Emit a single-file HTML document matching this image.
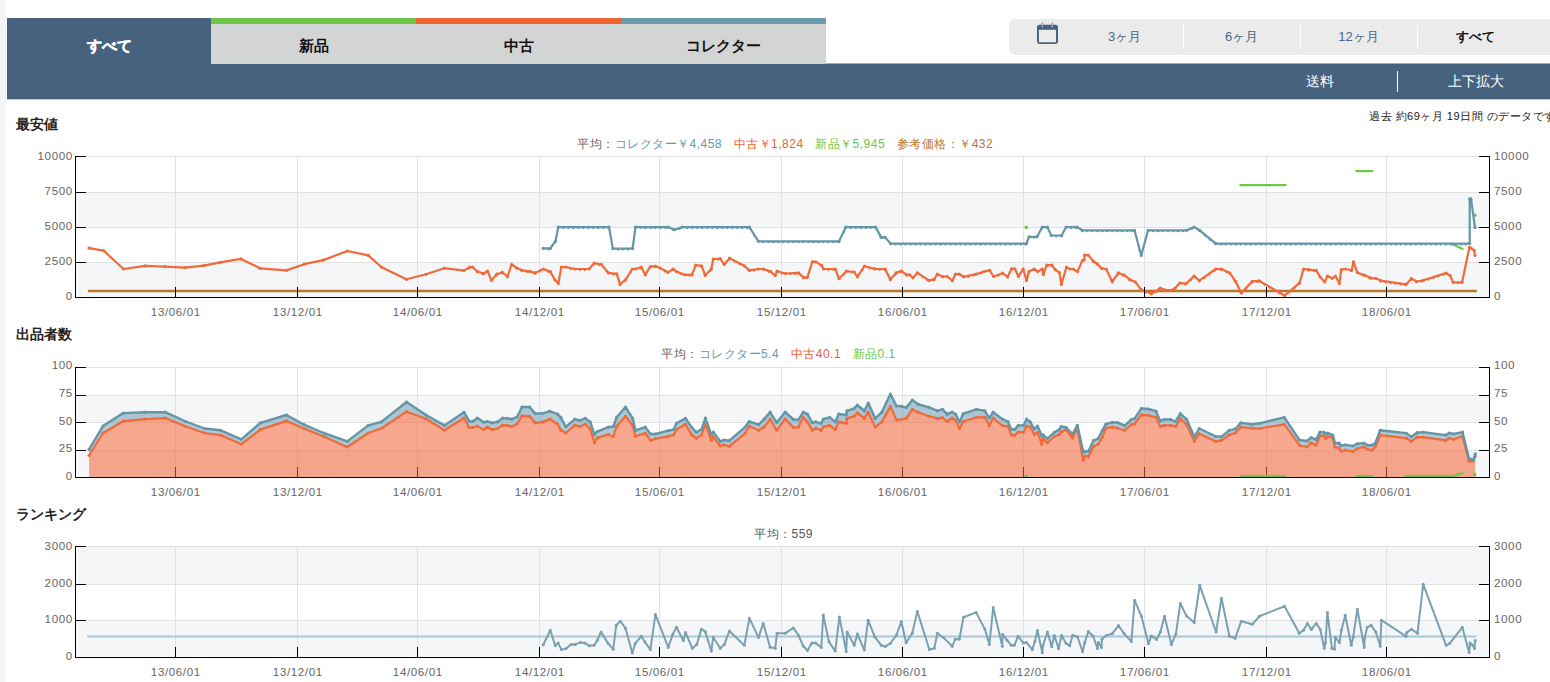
<!DOCTYPE html>
<html><head><meta charset="utf-8">
<style>
*{margin:0;padding:0;box-sizing:border-box}
html,body{width:1550px;height:682px;overflow:hidden;background:#fff;font-family:"Liberation Sans",sans-serif;color:#222}
.a{position:absolute}
#strip{left:0;top:0;width:6px;height:682px;background:#f4f5f7}
.tab{top:18px;height:46px;font-weight:bold;font-size:15px;text-align:center;line-height:46px}
.tab.on{background:#46627f;color:#fff;padding-top:6px;line-height:44px;-webkit-text-stroke:0.4px #fff}
.tab.off{background:#d3d4d4;color:#111;border-top:6px solid;line-height:44px}
#bar{left:7px;top:64px;width:1543px;height:35px;background:#46627f;box-shadow:0 1px 0 #c4c6c8}
#barline{left:826px;top:63px;width:724px;height:1px;background:#a9acaf}
.bt{color:#fff;font-size:14px;top:64px;height:35px;line-height:35px;text-align:center}
#sep{left:1397px;top:71px;width:1.2px;height:21px;background:#fff}
#dbox{left:1009px;top:19px;width:560px;height:36px;background:#ebebeb;border-radius:6px}
.dopt{top:19px;height:36px;line-height:36px;font-size:13px;color:#4a6684;text-align:center;width:117px}
.dsep{top:25px;width:1px;height:24px;background:#fff}
.title{font-size:14px;font-weight:bold;color:#222;left:16px}
.leg{font-size:12px;white-space:nowrap;color:#666;letter-spacing:0.5px}
svg text.al{font-family:"Liberation Sans",sans-serif;font-size:11.6px;letter-spacing:0.6px;fill:#666}
</style></head><body>
<div id="strip" class="a"></div>
<div class="a tab on" style="left:7px;width:204px">すべて</div>
<div class="a tab off" style="left:211px;width:205px;border-color:#6cc644">新品</div>
<div class="a tab off" style="left:416px;width:205px;border-color:#f0642f">中古</div>
<div class="a tab off" style="left:621px;width:205px;border-color:#6a9cae">コレクター</div>
<div id="bar" class="a"></div><div id="barline" class="a"></div>
<div class="a bt" style="left:1262px;width:116px">送料</div>
<div id="sep" class="a"></div>
<div class="a bt" style="left:1417px;width:117px">上下拡大</div>
<div id="dbox" class="a"></div>
<svg class="a" style="left:1036px;top:22px" width="24" height="24" viewBox="0 0 24 24">
<rect x="1" y="2.7" width="21" height="19.2" rx="2.4" fill="#46627f"/>
<rect x="2.9" y="7.8" width="17.1" height="12.5" rx="0.5" fill="#ebebeb"/>
<rect x="5.8" y="0.8" width="1.2" height="4.8" rx="0.6" fill="#ebebeb" stroke="#46627f" stroke-width="0.5"/>
<rect x="15.8" y="0.8" width="1.2" height="4.8" rx="0.6" fill="#ebebeb" stroke="#46627f" stroke-width="0.5"/>
</svg>
<div class="a dopt" style="left:1066px">3ヶ月</div>
<div class="a dsep" style="left:1183px"></div>
<div class="a dopt" style="left:1183px">6ヶ月</div>
<div class="a dsep" style="left:1300px"></div>
<div class="a dopt" style="left:1300px">12ヶ月</div>
<div class="a dsep" style="left:1417px"></div>
<div class="a dopt" style="left:1417px;color:#111;font-weight:bold;font-size:13px">すべて</div>
<div class="a leg" style="left:1369px;top:109px;font-size:11px;color:#222">過去 約69ヶ月 19日間 のデータです</div>

<div class="a title" style="top:116px">最安値</div>
<div class="a leg" style="left:577px;top:136px"><span style="color:#666">平均：</span><span style="color:#6a98ab">コレクター￥4,458</span>&nbsp;&nbsp; <span style="color:#ee6035">中古￥1,824</span>&nbsp;&nbsp; <span style="color:#6cc644">新品￥5,945</span>&nbsp;&nbsp; <span style="color:#b8772a">参考価格：￥432</span></div>

<div class="a title" style="top:326px">出品者数</div>
<div class="a leg" style="left:661px;top:346px"><span style="color:#666">平均：</span><span style="color:#6a98ab">コレクター5.4</span>&nbsp;&nbsp; <span style="color:#ee6035">中古40.1</span>&nbsp;&nbsp; <span style="color:#6cc644">新品0.1</span></div>

<div class="a title" style="top:505.5px;left:15.5px">ランキング</div>
<div class="a leg" style="left:754px;top:526px;color:#555">平均：559</div>

<svg class="a" style="left:0;top:0" width="1550" height="682" viewBox="0 0 1550 682">
<rect x="76" y="193" width="1413" height="34" fill="#f5f6f8"/>
<rect x="76" y="263" width="1413" height="34" fill="#f5f6f8"/>
<line x1="75" y1="156.5" x2="1489" y2="156.5" stroke="#e1e1e1" stroke-width="1"/>
<line x1="75" y1="192.5" x2="1489" y2="192.5" stroke="#e1e1e1" stroke-width="1"/>
<line x1="75" y1="227.5" x2="1489" y2="227.5" stroke="#e1e1e1" stroke-width="1"/>
<line x1="75" y1="262.5" x2="1489" y2="262.5" stroke="#e1e1e1" stroke-width="1"/>
<line x1="175.5" y1="156" x2="175.5" y2="297" stroke="#e1e1e1" stroke-width="1"/>
<line x1="297.5" y1="156" x2="297.5" y2="297" stroke="#e1e1e1" stroke-width="1"/>
<line x1="417.5" y1="156" x2="417.5" y2="297" stroke="#e1e1e1" stroke-width="1"/>
<line x1="539.5" y1="156" x2="539.5" y2="297" stroke="#e1e1e1" stroke-width="1"/>
<line x1="659.5" y1="156" x2="659.5" y2="297" stroke="#e1e1e1" stroke-width="1"/>
<line x1="781.5" y1="156" x2="781.5" y2="297" stroke="#e1e1e1" stroke-width="1"/>
<line x1="902.5" y1="156" x2="902.5" y2="297" stroke="#e1e1e1" stroke-width="1"/>
<line x1="1023.5" y1="156" x2="1023.5" y2="297" stroke="#e1e1e1" stroke-width="1"/>
<line x1="1144.5" y1="156" x2="1144.5" y2="297" stroke="#e1e1e1" stroke-width="1"/>
<line x1="1266.5" y1="156" x2="1266.5" y2="297" stroke="#e1e1e1" stroke-width="1"/>
<line x1="1386.5" y1="156" x2="1386.5" y2="297" stroke="#e1e1e1" stroke-width="1"/>
<polyline points="89,291 1475.8,291" fill="none" stroke="#b8772a" stroke-width="2.6" stroke-linecap="round"/>
<polyline points="89.0,248.1 103.6,250.6 123.5,269.0 145.2,265.9 164.8,266.6 184.8,267.7 203.9,265.7 220.0,262.3 240.9,258.9 260.0,268.3 286.4,270.4 304.2,264.2 323.2,260.1 347.4,251.0 368.3,255.4 381.6,267.2 406.4,279.3 426.1,274.3 444.2,268.2 463.9,270.6 469.7,267.1 472.6,267.0 477.4,271.6 483.6,273.5 487.5,271.0 491.4,280.4 496.8,274.2 502.3,272.3 507.5,276.5 511.6,264.5 516.8,268.0 521.9,270.3 529.7,271.4 535.1,272.9 543.2,269.0 550.3,271.6 554.8,279.7 558.3,283.5 561.3,267.1 565.8,267.0 574.8,269.0 589.0,269.0 594.2,263.2 601.3,264.5 608.4,272.9 616.8,273.9 620.0,284.5 625.8,279.4 632.3,269.0 635.5,269.0 641.3,267.1 645.2,274.8 650.3,266.5 655.5,266.2 660.0,268.0 668.1,272.3 673.2,269.0 676.5,271.6 684.8,274.8 691.9,274.8 695.8,265.2 701.6,265.8 705.2,275.5 711.3,269.0 713.2,259.1 720.3,258.7 724.2,264.5 729.6,258.1 744.2,265.8 749.4,270.3 758.4,269.0 763.5,269.0 770.6,271.6 775.2,275.5 777.1,271.2 785.5,273.5 798.4,272.9 803.5,277.4 807.4,277.4 812.3,261.9 815.8,261.9 821.6,265.4 823.5,269.0 835.2,269.0 839.0,278.7 846.3,271.2 854.2,272.0 857.4,276.8 864.5,266.2 874.8,268.8 885.2,269.0 890.3,279.4 896.1,272.9 901.3,271.0 906.5,274.8 909.7,274.8 912.9,277.8 917.4,272.9 929.0,280.4 934.2,279.4 937.4,274.2 942.6,276.5 947.1,276.5 952.3,280.6 955.5,274.2 959.4,274.2 963.6,276.8 976.1,274.2 984.5,271.4 989.7,270.3 993.5,276.5 1002.6,273.2 1007.7,276.8 1011.6,268.8 1014.8,268.8 1018.5,276.4 1023.2,269.0 1026.5,280.4 1029.0,271.4 1034.2,269.0 1037.7,271.6 1042.3,269.0 1043.3,274.6 1046.8,265.2 1051.9,265.2 1055.2,269.7 1059.4,272.6 1061.4,284.5 1066.4,267.1 1070.0,269.0 1073.2,269.0 1077.5,271.6 1082.3,260.6 1084.2,260.0 1084.6,255.1 1088.1,255.1 1093.2,261.0 1097.1,263.9 1101.6,268.4 1106.1,269.0 1112.3,281.7 1118.4,272.9 1124.2,275.2 1130.6,280.0 1135.2,281.9 1141.2,289.7 1151.3,293.5 1155.8,291.4 1160.3,288.0 1165.5,290.1 1171.9,290.1 1175.2,288.0 1179.9,283.0 1186.1,283.6 1194.1,276.1 1199.3,280.6 1215.8,269.0 1221.6,269.0 1229.7,272.9 1235.5,281.3 1241.3,292.9 1252.3,281.3 1259.4,280.9 1284.5,295.5 1299.4,283.2 1303.6,269.0 1309.0,269.7 1316.1,270.3 1320.0,276.8 1324.8,281.9 1327.4,276.1 1332.3,278.3 1335.5,276.1 1339.4,283.5 1341.3,269.7 1345.8,269.0 1351.6,270.3 1353.5,261.9 1357.4,272.6 1364.5,275.2 1371.0,278.1 1375.5,278.3 1380.6,280.6 1406.1,284.4 1411.3,278.7 1416.9,281.5 1423.4,280.3 1446.0,273.1 1450.0,275.5 1453.2,282.3 1462.1,282.3 1469.4,247.3 1471.0,248.1 1474.2,250.5 1475.0,255.3" fill="none" stroke="#f06a3a" stroke-width="2.2" stroke-linejoin="round" stroke-linecap="round"/>
<g fill="#f06a3a"><circle cx="89.0" cy="248.1" r="1.6"/><circle cx="103.6" cy="250.6" r="1.6"/><circle cx="123.5" cy="269.0" r="1.6"/><circle cx="145.2" cy="265.9" r="1.6"/><circle cx="164.8" cy="266.6" r="1.6"/><circle cx="184.8" cy="267.7" r="1.6"/><circle cx="203.9" cy="265.7" r="1.6"/><circle cx="220.0" cy="262.3" r="1.6"/><circle cx="240.9" cy="258.9" r="1.6"/><circle cx="260.0" cy="268.3" r="1.6"/><circle cx="286.4" cy="270.4" r="1.6"/><circle cx="304.2" cy="264.2" r="1.6"/><circle cx="323.2" cy="260.1" r="1.6"/><circle cx="347.4" cy="251.0" r="1.6"/><circle cx="368.3" cy="255.4" r="1.6"/><circle cx="381.6" cy="267.2" r="1.6"/><circle cx="406.4" cy="279.3" r="1.6"/><circle cx="426.1" cy="274.3" r="1.6"/><circle cx="444.2" cy="268.2" r="1.6"/><circle cx="463.9" cy="270.6" r="1.6"/><circle cx="469.7" cy="267.1" r="1.6"/><circle cx="472.6" cy="267.0" r="1.6"/><circle cx="477.4" cy="271.6" r="1.6"/><circle cx="483.6" cy="273.5" r="1.6"/><circle cx="487.5" cy="271.0" r="1.6"/><circle cx="491.4" cy="280.4" r="1.6"/><circle cx="496.8" cy="274.2" r="1.6"/><circle cx="502.3" cy="272.3" r="1.6"/><circle cx="507.5" cy="276.5" r="1.6"/><circle cx="511.6" cy="264.5" r="1.6"/><circle cx="516.8" cy="268.0" r="1.6"/><circle cx="521.9" cy="270.3" r="1.6"/><circle cx="529.7" cy="271.4" r="1.6"/><circle cx="535.1" cy="272.9" r="1.6"/><circle cx="543.2" cy="269.0" r="1.6"/><circle cx="550.3" cy="271.6" r="1.6"/><circle cx="554.8" cy="279.7" r="1.6"/><circle cx="558.3" cy="283.5" r="1.6"/><circle cx="561.3" cy="267.1" r="1.6"/><circle cx="565.8" cy="267.0" r="1.6"/><circle cx="574.8" cy="269.0" r="1.6"/><circle cx="589.0" cy="269.0" r="1.6"/><circle cx="594.2" cy="263.2" r="1.6"/><circle cx="601.3" cy="264.5" r="1.6"/><circle cx="608.4" cy="272.9" r="1.6"/><circle cx="616.8" cy="273.9" r="1.6"/><circle cx="620.0" cy="284.5" r="1.6"/><circle cx="625.8" cy="279.4" r="1.6"/><circle cx="632.3" cy="269.0" r="1.6"/><circle cx="635.5" cy="269.0" r="1.6"/><circle cx="641.3" cy="267.1" r="1.6"/><circle cx="645.2" cy="274.8" r="1.6"/><circle cx="650.3" cy="266.5" r="1.6"/><circle cx="655.5" cy="266.2" r="1.6"/><circle cx="660.0" cy="268.0" r="1.6"/><circle cx="668.1" cy="272.3" r="1.6"/><circle cx="673.2" cy="269.0" r="1.6"/><circle cx="676.5" cy="271.6" r="1.6"/><circle cx="684.8" cy="274.8" r="1.6"/><circle cx="691.9" cy="274.8" r="1.6"/><circle cx="695.8" cy="265.2" r="1.6"/><circle cx="701.6" cy="265.8" r="1.6"/><circle cx="705.2" cy="275.5" r="1.6"/><circle cx="711.3" cy="269.0" r="1.6"/><circle cx="713.2" cy="259.1" r="1.6"/><circle cx="720.3" cy="258.7" r="1.6"/><circle cx="724.2" cy="264.5" r="1.6"/><circle cx="729.6" cy="258.1" r="1.6"/><circle cx="744.2" cy="265.8" r="1.6"/><circle cx="749.4" cy="270.3" r="1.6"/><circle cx="758.4" cy="269.0" r="1.6"/><circle cx="763.5" cy="269.0" r="1.6"/><circle cx="770.6" cy="271.6" r="1.6"/><circle cx="775.2" cy="275.5" r="1.6"/><circle cx="777.1" cy="271.2" r="1.6"/><circle cx="785.5" cy="273.5" r="1.6"/><circle cx="798.4" cy="272.9" r="1.6"/><circle cx="803.5" cy="277.4" r="1.6"/><circle cx="807.4" cy="277.4" r="1.6"/><circle cx="812.3" cy="261.9" r="1.6"/><circle cx="815.8" cy="261.9" r="1.6"/><circle cx="821.6" cy="265.4" r="1.6"/><circle cx="823.5" cy="269.0" r="1.6"/><circle cx="835.2" cy="269.0" r="1.6"/><circle cx="839.0" cy="278.7" r="1.6"/><circle cx="846.3" cy="271.2" r="1.6"/><circle cx="854.2" cy="272.0" r="1.6"/><circle cx="857.4" cy="276.8" r="1.6"/><circle cx="864.5" cy="266.2" r="1.6"/><circle cx="874.8" cy="268.8" r="1.6"/><circle cx="885.2" cy="269.0" r="1.6"/><circle cx="890.3" cy="279.4" r="1.6"/><circle cx="896.1" cy="272.9" r="1.6"/><circle cx="901.3" cy="271.0" r="1.6"/><circle cx="906.5" cy="274.8" r="1.6"/><circle cx="909.7" cy="274.8" r="1.6"/><circle cx="912.9" cy="277.8" r="1.6"/><circle cx="917.4" cy="272.9" r="1.6"/><circle cx="929.0" cy="280.4" r="1.6"/><circle cx="934.2" cy="279.4" r="1.6"/><circle cx="937.4" cy="274.2" r="1.6"/><circle cx="942.6" cy="276.5" r="1.6"/><circle cx="947.1" cy="276.5" r="1.6"/><circle cx="952.3" cy="280.6" r="1.6"/><circle cx="955.5" cy="274.2" r="1.6"/><circle cx="959.4" cy="274.2" r="1.6"/><circle cx="963.6" cy="276.8" r="1.6"/><circle cx="976.1" cy="274.2" r="1.6"/><circle cx="984.5" cy="271.4" r="1.6"/><circle cx="989.7" cy="270.3" r="1.6"/><circle cx="993.5" cy="276.5" r="1.6"/><circle cx="1002.6" cy="273.2" r="1.6"/><circle cx="1007.7" cy="276.8" r="1.6"/><circle cx="1011.6" cy="268.8" r="1.6"/><circle cx="1014.8" cy="268.8" r="1.6"/><circle cx="1018.5" cy="276.4" r="1.6"/><circle cx="1023.2" cy="269.0" r="1.6"/><circle cx="1026.5" cy="280.4" r="1.6"/><circle cx="1029.0" cy="271.4" r="1.6"/><circle cx="1034.2" cy="269.0" r="1.6"/><circle cx="1037.7" cy="271.6" r="1.6"/><circle cx="1042.3" cy="269.0" r="1.6"/><circle cx="1043.3" cy="274.6" r="1.6"/><circle cx="1046.8" cy="265.2" r="1.6"/><circle cx="1051.9" cy="265.2" r="1.6"/><circle cx="1055.2" cy="269.7" r="1.6"/><circle cx="1059.4" cy="272.6" r="1.6"/><circle cx="1061.4" cy="284.5" r="1.6"/><circle cx="1066.4" cy="267.1" r="1.6"/><circle cx="1070.0" cy="269.0" r="1.6"/><circle cx="1073.2" cy="269.0" r="1.6"/><circle cx="1077.5" cy="271.6" r="1.6"/><circle cx="1082.3" cy="260.6" r="1.6"/><circle cx="1084.2" cy="260.0" r="1.6"/><circle cx="1084.6" cy="255.1" r="1.6"/><circle cx="1088.1" cy="255.1" r="1.6"/><circle cx="1093.2" cy="261.0" r="1.6"/><circle cx="1097.1" cy="263.9" r="1.6"/><circle cx="1101.6" cy="268.4" r="1.6"/><circle cx="1106.1" cy="269.0" r="1.6"/><circle cx="1112.3" cy="281.7" r="1.6"/><circle cx="1118.4" cy="272.9" r="1.6"/><circle cx="1124.2" cy="275.2" r="1.6"/><circle cx="1130.6" cy="280.0" r="1.6"/><circle cx="1135.2" cy="281.9" r="1.6"/><circle cx="1141.2" cy="289.7" r="1.6"/><circle cx="1151.3" cy="293.5" r="1.6"/><circle cx="1155.8" cy="291.4" r="1.6"/><circle cx="1160.3" cy="288.0" r="1.6"/><circle cx="1165.5" cy="290.1" r="1.6"/><circle cx="1171.9" cy="290.1" r="1.6"/><circle cx="1175.2" cy="288.0" r="1.6"/><circle cx="1179.9" cy="283.0" r="1.6"/><circle cx="1186.1" cy="283.6" r="1.6"/><circle cx="1194.1" cy="276.1" r="1.6"/><circle cx="1199.3" cy="280.6" r="1.6"/><circle cx="1215.8" cy="269.0" r="1.6"/><circle cx="1221.6" cy="269.0" r="1.6"/><circle cx="1229.7" cy="272.9" r="1.6"/><circle cx="1235.5" cy="281.3" r="1.6"/><circle cx="1241.3" cy="292.9" r="1.6"/><circle cx="1252.3" cy="281.3" r="1.6"/><circle cx="1259.4" cy="280.9" r="1.6"/><circle cx="1284.5" cy="295.5" r="1.6"/><circle cx="1299.4" cy="283.2" r="1.6"/><circle cx="1303.6" cy="269.0" r="1.6"/><circle cx="1309.0" cy="269.7" r="1.6"/><circle cx="1316.1" cy="270.3" r="1.6"/><circle cx="1320.0" cy="276.8" r="1.6"/><circle cx="1324.8" cy="281.9" r="1.6"/><circle cx="1327.4" cy="276.1" r="1.6"/><circle cx="1332.3" cy="278.3" r="1.6"/><circle cx="1335.5" cy="276.1" r="1.6"/><circle cx="1339.4" cy="283.5" r="1.6"/><circle cx="1341.3" cy="269.7" r="1.6"/><circle cx="1345.8" cy="269.0" r="1.6"/><circle cx="1351.6" cy="270.3" r="1.6"/><circle cx="1353.5" cy="261.9" r="1.6"/><circle cx="1357.4" cy="272.6" r="1.6"/><circle cx="1364.5" cy="275.2" r="1.6"/><circle cx="1371.0" cy="278.1" r="1.6"/><circle cx="1375.5" cy="278.3" r="1.6"/><circle cx="1380.6" cy="280.6" r="1.6"/><circle cx="1406.1" cy="284.4" r="1.6"/><circle cx="1411.3" cy="278.7" r="1.6"/><circle cx="1416.9" cy="281.5" r="1.6"/><circle cx="1423.4" cy="280.3" r="1.6"/><circle cx="1446.0" cy="273.1" r="1.6"/><circle cx="1450.0" cy="275.5" r="1.6"/><circle cx="1453.2" cy="282.3" r="1.6"/><circle cx="1462.1" cy="282.3" r="1.6"/><circle cx="1469.4" cy="247.3" r="1.6"/><circle cx="1471.0" cy="248.1" r="1.6"/><circle cx="1474.2" cy="250.5" r="1.6"/><circle cx="1475.0" cy="255.3" r="1.6"/></g>
<g fill="#f06a3a"><circle cx="468.9" cy="268.5" r="1.15"/><circle cx="482.4" cy="274.0" r="1.15"/><circle cx="496.4" cy="275.6" r="1.15"/><circle cx="501.8" cy="273.4" r="1.15"/><circle cx="507.3" cy="277.2" r="1.15"/><circle cx="516.6" cy="268.8" r="1.15"/><circle cx="521.8" cy="271.2" r="1.15"/><circle cx="526.9" cy="271.9" r="1.15"/><circle cx="534.7" cy="273.7" r="1.15"/><circle cx="540.1" cy="271.4" r="1.15"/><circle cx="548.2" cy="271.7" r="1.15"/><circle cx="570.8" cy="269.0" r="1.15"/><circle cx="579.8" cy="269.9" r="1.15"/><circle cx="584.8" cy="269.9" r="1.15"/><circle cx="594.0" cy="264.3" r="1.15"/><circle cx="599.2" cy="265.0" r="1.15"/><circle cx="606.3" cy="271.3" r="1.15"/><circle cx="613.4" cy="274.4" r="1.15"/><circle cx="625.0" cy="281.0" r="1.15"/><circle cx="630.8" cy="272.3" r="1.15"/><circle cx="640.5" cy="268.3" r="1.15"/><circle cx="650.2" cy="267.6" r="1.15"/><circle cx="655.3" cy="267.1" r="1.15"/><circle cx="665.0" cy="271.6" r="1.15"/><circle cx="673.1" cy="270.0" r="1.15"/><circle cx="681.5" cy="274.4" r="1.15"/><circle cx="689.8" cy="275.7" r="1.15"/><circle cx="700.8" cy="266.6" r="1.15"/><circle cx="710.2" cy="271.1" r="1.15"/><circle cx="718.2" cy="259.7" r="1.15"/><circle cx="729.2" cy="259.5" r="1.15"/><circle cx="734.6" cy="261.6" r="1.15"/><circle cx="739.6" cy="264.3" r="1.15"/><circle cx="749.2" cy="271.0" r="1.15"/><circle cx="754.4" cy="270.5" r="1.15"/><circle cx="763.4" cy="269.9" r="1.15"/><circle cx="768.5" cy="271.7" r="1.15"/><circle cx="782.1" cy="273.5" r="1.15"/><circle cx="790.5" cy="274.2" r="1.15"/><circle cx="795.5" cy="273.9" r="1.15"/><circle cx="803.4" cy="278.2" r="1.15"/><circle cx="820.8" cy="265.8" r="1.15"/><circle cx="828.5" cy="269.9" r="1.15"/><circle cx="833.5" cy="269.9" r="1.15"/><circle cx="844.0" cy="274.5" r="1.15"/><circle cx="851.3" cy="272.6" r="1.15"/><circle cx="862.4" cy="270.2" r="1.15"/><circle cx="869.5" cy="268.4" r="1.15"/><circle cx="874.5" cy="269.6" r="1.15"/><circle cx="879.8" cy="269.8" r="1.15"/><circle cx="884.8" cy="269.9" r="1.15"/><circle cx="890.2" cy="280.1" r="1.15"/><circle cx="895.3" cy="274.7" r="1.15"/><circle cx="901.1" cy="272.0" r="1.15"/><circle cx="906.3" cy="275.6" r="1.15"/><circle cx="922.4" cy="277.0" r="1.15"/><circle cx="927.4" cy="280.3" r="1.15"/><circle cx="934.0" cy="280.3" r="1.15"/><circle cx="942.4" cy="277.3" r="1.15"/><circle cx="952.1" cy="281.3" r="1.15"/><circle cx="968.6" cy="276.7" r="1.15"/><circle cx="973.6" cy="275.6" r="1.15"/><circle cx="981.1" cy="273.4" r="1.15"/><circle cx="989.5" cy="271.2" r="1.15"/><circle cx="998.5" cy="275.6" r="1.15"/><circle cx="1007.6" cy="277.6" r="1.15"/><circle cx="1034.0" cy="270.0" r="1.15"/><circle cx="1051.8" cy="266.1" r="1.15"/><circle cx="1093.1" cy="261.8" r="1.15"/><circle cx="1111.1" cy="280.1" r="1.15"/><circle cx="1117.3" cy="275.4" r="1.15"/><circle cx="1123.4" cy="275.8" r="1.15"/><circle cx="1129.2" cy="279.9" r="1.15"/><circle cx="1140.2" cy="289.3" r="1.15"/><circle cx="1146.2" cy="292.5" r="1.15"/><circle cx="1151.2" cy="294.4" r="1.15"/><circle cx="1165.3" cy="290.9" r="1.15"/><circle cx="1170.5" cy="291.0" r="1.15"/><circle cx="1184.9" cy="284.4" r="1.15"/><circle cx="1191.1" cy="279.8" r="1.15"/><circle cx="1199.1" cy="281.3" r="1.15"/><circle cx="1204.3" cy="278.0" r="1.15"/><circle cx="1209.3" cy="274.5" r="1.15"/><circle cx="1214.3" cy="271.0" r="1.15"/><circle cx="1220.8" cy="269.9" r="1.15"/><circle cx="1226.6" cy="272.3" r="1.15"/><circle cx="1234.7" cy="281.0" r="1.15"/><circle cx="1240.5" cy="292.2" r="1.15"/><circle cx="1246.3" cy="288.5" r="1.15"/><circle cx="1251.3" cy="283.3" r="1.15"/><circle cx="1257.3" cy="281.9" r="1.15"/><circle cx="1264.4" cy="284.7" r="1.15"/><circle cx="1269.4" cy="287.6" r="1.15"/><circle cx="1274.4" cy="290.5" r="1.15"/><circle cx="1279.4" cy="293.4" r="1.15"/><circle cx="1284.4" cy="296.3" r="1.15"/><circle cx="1289.5" cy="292.3" r="1.15"/><circle cx="1294.5" cy="288.1" r="1.15"/><circle cx="1308.6" cy="270.5" r="1.15"/><circle cx="1314.0" cy="271.0" r="1.15"/><circle cx="1350.8" cy="271.0" r="1.15"/><circle cx="1362.4" cy="275.3" r="1.15"/><circle cx="1369.5" cy="278.3" r="1.15"/><circle cx="1380.5" cy="281.5" r="1.15"/><circle cx="1385.6" cy="282.2" r="1.15"/><circle cx="1390.6" cy="283.0" r="1.15"/><circle cx="1395.6" cy="283.7" r="1.15"/><circle cx="1400.6" cy="284.5" r="1.15"/><circle cx="1405.6" cy="285.2" r="1.15"/><circle cx="1411.1" cy="279.8" r="1.15"/><circle cx="1416.3" cy="282.1" r="1.15"/><circle cx="1421.9" cy="281.5" r="1.15"/><circle cx="1428.4" cy="279.6" r="1.15"/><circle cx="1433.4" cy="278.0" r="1.15"/><circle cx="1438.4" cy="276.4" r="1.15"/><circle cx="1443.4" cy="274.8" r="1.15"/><circle cx="1458.2" cy="283.2" r="1.15"/><circle cx="1467.1" cy="259.2" r="1.15"/></g>
<circle cx="1026.2" cy="227.4" r="1.8" fill="#6ccb45"/>
<polyline points="1240.3,185.1 1285.7,185.1" fill="none" stroke="#6ccb45" stroke-width="2.2" stroke-linejoin="round" stroke-linecap="round"/>
<polyline points="1356.4,171.1 1372.4,171.1" fill="none" stroke="#6ccb45" stroke-width="2.2" stroke-linejoin="round" stroke-linecap="round"/>
<polyline points="1450.0,243.6 1453.2,244.6 1462.6,248.9" fill="none" stroke="#6ccb45" stroke-width="2.2" stroke-linejoin="round" stroke-linecap="round"/>
<circle cx="1475.0" cy="215.3" r="1.8" fill="#6ccb45"/>
<polyline points="543.2,248.4 550.3,248.4 555.5,241.0 558.3,227.1 609.0,227.1 612.9,248.6 632.6,248.6 635.5,227.1 668.1,227.1 674.5,229.7 682.3,227.1 749.4,227.1 758.4,241.3 839.0,241.3 845.9,227.1 875.5,227.1 881.3,237.4 885.2,237.4 890.6,243.6 1026.5,243.6 1029.0,236.8 1037.1,236.8 1042.3,227.1 1047.4,227.1 1051.3,235.5 1061.6,235.5 1066.1,227.1 1077.1,227.1 1082.3,230.3 1134.5,230.3 1141.2,255.5 1148.1,230.3 1186.8,230.3 1194.1,227.1 1199.7,230.3 1215.8,243.6 1469.7,243.6 1469.7,198.9 1471.0,198.9 1475.0,227.6" fill="none" stroke="#6496a8" stroke-width="2.2" stroke-linejoin="round" stroke-linecap="round"/>
<g fill="#6496a8"><circle cx="543.2" cy="248.4" r="1.6"/><circle cx="550.3" cy="248.4" r="1.6"/><circle cx="555.5" cy="241.0" r="1.6"/><circle cx="558.3" cy="227.1" r="1.6"/><circle cx="609.0" cy="227.1" r="1.6"/><circle cx="612.9" cy="248.6" r="1.6"/><circle cx="632.6" cy="248.6" r="1.6"/><circle cx="635.5" cy="227.1" r="1.6"/><circle cx="668.1" cy="227.1" r="1.6"/><circle cx="674.5" cy="229.7" r="1.6"/><circle cx="682.3" cy="227.1" r="1.6"/><circle cx="749.4" cy="227.1" r="1.6"/><circle cx="758.4" cy="241.3" r="1.6"/><circle cx="839.0" cy="241.3" r="1.6"/><circle cx="845.9" cy="227.1" r="1.6"/><circle cx="875.5" cy="227.1" r="1.6"/><circle cx="881.3" cy="237.4" r="1.6"/><circle cx="885.2" cy="237.4" r="1.6"/><circle cx="890.6" cy="243.6" r="1.6"/><circle cx="1026.5" cy="243.6" r="1.6"/><circle cx="1029.0" cy="236.8" r="1.6"/><circle cx="1037.1" cy="236.8" r="1.6"/><circle cx="1042.3" cy="227.1" r="1.6"/><circle cx="1047.4" cy="227.1" r="1.6"/><circle cx="1051.3" cy="235.5" r="1.6"/><circle cx="1061.6" cy="235.5" r="1.6"/><circle cx="1066.1" cy="227.1" r="1.6"/><circle cx="1077.1" cy="227.1" r="1.6"/><circle cx="1082.3" cy="230.3" r="1.6"/><circle cx="1134.5" cy="230.3" r="1.6"/><circle cx="1141.2" cy="255.5" r="1.6"/><circle cx="1148.1" cy="230.3" r="1.6"/><circle cx="1186.8" cy="230.3" r="1.6"/><circle cx="1194.1" cy="227.1" r="1.6"/><circle cx="1199.7" cy="230.3" r="1.6"/><circle cx="1215.8" cy="243.6" r="1.6"/><circle cx="1469.7" cy="243.6" r="1.6"/><circle cx="1469.7" cy="198.9" r="1.6"/><circle cx="1471.0" cy="198.9" r="1.6"/><circle cx="1475.0" cy="227.6" r="1.6"/></g>
<g fill="#6496a8"><circle cx="548.2" cy="249.3" r="1.15"/><circle cx="555.3" cy="242.2" r="1.15"/><circle cx="563.3" cy="228.0" r="1.15"/><circle cx="568.3" cy="228.0" r="1.15"/><circle cx="573.3" cy="228.0" r="1.15"/><circle cx="578.3" cy="228.0" r="1.15"/><circle cx="583.3" cy="228.0" r="1.15"/><circle cx="588.3" cy="228.0" r="1.15"/><circle cx="593.3" cy="228.0" r="1.15"/><circle cx="598.3" cy="228.0" r="1.15"/><circle cx="603.3" cy="228.0" r="1.15"/><circle cx="608.3" cy="228.0" r="1.15"/><circle cx="617.9" cy="249.5" r="1.15"/><circle cx="622.9" cy="249.5" r="1.15"/><circle cx="627.9" cy="249.5" r="1.15"/><circle cx="640.5" cy="228.0" r="1.15"/><circle cx="645.5" cy="228.0" r="1.15"/><circle cx="650.5" cy="228.0" r="1.15"/><circle cx="655.5" cy="228.0" r="1.15"/><circle cx="660.5" cy="228.0" r="1.15"/><circle cx="665.5" cy="228.0" r="1.15"/><circle cx="673.1" cy="230.0" r="1.15"/><circle cx="679.5" cy="228.9" r="1.15"/><circle cx="687.3" cy="228.0" r="1.15"/><circle cx="692.3" cy="228.0" r="1.15"/><circle cx="697.3" cy="228.0" r="1.15"/><circle cx="702.3" cy="228.0" r="1.15"/><circle cx="707.3" cy="228.0" r="1.15"/><circle cx="712.3" cy="228.0" r="1.15"/><circle cx="717.3" cy="228.0" r="1.15"/><circle cx="722.3" cy="228.0" r="1.15"/><circle cx="727.3" cy="228.0" r="1.15"/><circle cx="732.3" cy="228.0" r="1.15"/><circle cx="737.3" cy="228.0" r="1.15"/><circle cx="742.3" cy="228.0" r="1.15"/><circle cx="747.3" cy="228.0" r="1.15"/><circle cx="754.4" cy="235.9" r="1.15"/><circle cx="763.4" cy="242.2" r="1.15"/><circle cx="768.4" cy="242.2" r="1.15"/><circle cx="773.4" cy="242.2" r="1.15"/><circle cx="778.4" cy="242.2" r="1.15"/><circle cx="783.4" cy="242.2" r="1.15"/><circle cx="788.4" cy="242.2" r="1.15"/><circle cx="793.4" cy="242.2" r="1.15"/><circle cx="798.4" cy="242.2" r="1.15"/><circle cx="803.4" cy="242.2" r="1.15"/><circle cx="808.4" cy="242.2" r="1.15"/><circle cx="813.4" cy="242.2" r="1.15"/><circle cx="818.4" cy="242.2" r="1.15"/><circle cx="823.4" cy="242.2" r="1.15"/><circle cx="828.4" cy="242.2" r="1.15"/><circle cx="833.4" cy="242.2" r="1.15"/><circle cx="838.4" cy="242.2" r="1.15"/><circle cx="844.0" cy="231.9" r="1.15"/><circle cx="850.9" cy="228.0" r="1.15"/><circle cx="855.9" cy="228.0" r="1.15"/><circle cx="860.9" cy="228.0" r="1.15"/><circle cx="865.9" cy="228.0" r="1.15"/><circle cx="870.9" cy="228.0" r="1.15"/><circle cx="880.5" cy="236.9" r="1.15"/><circle cx="890.2" cy="244.0" r="1.15"/><circle cx="895.6" cy="244.5" r="1.15"/><circle cx="900.6" cy="244.5" r="1.15"/><circle cx="905.6" cy="244.5" r="1.15"/><circle cx="910.6" cy="244.5" r="1.15"/><circle cx="915.6" cy="244.5" r="1.15"/><circle cx="920.6" cy="244.5" r="1.15"/><circle cx="925.6" cy="244.5" r="1.15"/><circle cx="930.6" cy="244.5" r="1.15"/><circle cx="935.6" cy="244.5" r="1.15"/><circle cx="940.6" cy="244.5" r="1.15"/><circle cx="945.6" cy="244.5" r="1.15"/><circle cx="950.6" cy="244.5" r="1.15"/><circle cx="955.6" cy="244.5" r="1.15"/><circle cx="960.6" cy="244.5" r="1.15"/><circle cx="965.6" cy="244.5" r="1.15"/><circle cx="970.6" cy="244.5" r="1.15"/><circle cx="975.6" cy="244.5" r="1.15"/><circle cx="980.6" cy="244.5" r="1.15"/><circle cx="985.6" cy="244.5" r="1.15"/><circle cx="990.6" cy="244.5" r="1.15"/><circle cx="995.6" cy="244.5" r="1.15"/><circle cx="1000.6" cy="244.5" r="1.15"/><circle cx="1005.6" cy="244.5" r="1.15"/><circle cx="1010.6" cy="244.5" r="1.15"/><circle cx="1015.6" cy="244.5" r="1.15"/><circle cx="1020.6" cy="244.5" r="1.15"/><circle cx="1025.6" cy="244.5" r="1.15"/><circle cx="1034.0" cy="237.7" r="1.15"/><circle cx="1042.1" cy="228.4" r="1.15"/><circle cx="1047.3" cy="228.0" r="1.15"/><circle cx="1056.3" cy="236.4" r="1.15"/><circle cx="1061.3" cy="236.4" r="1.15"/><circle cx="1071.1" cy="228.0" r="1.15"/><circle cx="1076.1" cy="228.0" r="1.15"/><circle cx="1082.1" cy="231.1" r="1.15"/><circle cx="1087.3" cy="231.2" r="1.15"/><circle cx="1092.3" cy="231.2" r="1.15"/><circle cx="1097.3" cy="231.2" r="1.15"/><circle cx="1102.3" cy="231.2" r="1.15"/><circle cx="1107.3" cy="231.2" r="1.15"/><circle cx="1112.3" cy="231.2" r="1.15"/><circle cx="1117.3" cy="231.2" r="1.15"/><circle cx="1122.3" cy="231.2" r="1.15"/><circle cx="1127.3" cy="231.2" r="1.15"/><circle cx="1132.3" cy="231.2" r="1.15"/><circle cx="1139.5" cy="250.0" r="1.15"/><circle cx="1146.2" cy="238.1" r="1.15"/><circle cx="1153.1" cy="231.2" r="1.15"/><circle cx="1158.1" cy="231.2" r="1.15"/><circle cx="1163.1" cy="231.2" r="1.15"/><circle cx="1168.1" cy="231.2" r="1.15"/><circle cx="1173.1" cy="231.2" r="1.15"/><circle cx="1178.1" cy="231.2" r="1.15"/><circle cx="1183.1" cy="231.2" r="1.15"/><circle cx="1191.8" cy="229.0" r="1.15"/><circle cx="1199.1" cy="230.9" r="1.15"/><circle cx="1204.7" cy="235.3" r="1.15"/><circle cx="1209.7" cy="239.5" r="1.15"/><circle cx="1214.7" cy="243.6" r="1.15"/><circle cx="1220.8" cy="244.5" r="1.15"/><circle cx="1225.8" cy="244.5" r="1.15"/><circle cx="1230.8" cy="244.5" r="1.15"/><circle cx="1235.8" cy="244.5" r="1.15"/><circle cx="1240.8" cy="244.5" r="1.15"/><circle cx="1245.8" cy="244.5" r="1.15"/><circle cx="1250.8" cy="244.5" r="1.15"/><circle cx="1255.8" cy="244.5" r="1.15"/><circle cx="1260.8" cy="244.5" r="1.15"/><circle cx="1265.8" cy="244.5" r="1.15"/><circle cx="1270.8" cy="244.5" r="1.15"/><circle cx="1275.8" cy="244.5" r="1.15"/><circle cx="1280.8" cy="244.5" r="1.15"/><circle cx="1285.8" cy="244.5" r="1.15"/><circle cx="1290.8" cy="244.5" r="1.15"/><circle cx="1295.8" cy="244.5" r="1.15"/><circle cx="1300.8" cy="244.5" r="1.15"/><circle cx="1305.8" cy="244.5" r="1.15"/><circle cx="1310.8" cy="244.5" r="1.15"/><circle cx="1315.8" cy="244.5" r="1.15"/><circle cx="1320.8" cy="244.5" r="1.15"/><circle cx="1325.8" cy="244.5" r="1.15"/><circle cx="1330.8" cy="244.5" r="1.15"/><circle cx="1335.8" cy="244.5" r="1.15"/><circle cx="1340.8" cy="244.5" r="1.15"/><circle cx="1345.8" cy="244.5" r="1.15"/><circle cx="1350.8" cy="244.5" r="1.15"/><circle cx="1355.8" cy="244.5" r="1.15"/><circle cx="1360.8" cy="244.5" r="1.15"/><circle cx="1365.8" cy="244.5" r="1.15"/><circle cx="1370.8" cy="244.5" r="1.15"/><circle cx="1375.8" cy="244.5" r="1.15"/><circle cx="1380.8" cy="244.5" r="1.15"/><circle cx="1385.8" cy="244.5" r="1.15"/><circle cx="1390.8" cy="244.5" r="1.15"/><circle cx="1395.8" cy="244.5" r="1.15"/><circle cx="1400.8" cy="244.5" r="1.15"/><circle cx="1405.8" cy="244.5" r="1.15"/><circle cx="1410.8" cy="244.5" r="1.15"/><circle cx="1415.8" cy="244.5" r="1.15"/><circle cx="1420.8" cy="244.5" r="1.15"/><circle cx="1425.8" cy="244.5" r="1.15"/><circle cx="1430.8" cy="244.5" r="1.15"/><circle cx="1435.8" cy="244.5" r="1.15"/><circle cx="1440.8" cy="244.5" r="1.15"/><circle cx="1445.8" cy="244.5" r="1.15"/><circle cx="1450.8" cy="244.5" r="1.15"/><circle cx="1455.8" cy="244.5" r="1.15"/><circle cx="1460.8" cy="244.5" r="1.15"/><circle cx="1465.8" cy="244.5" r="1.15"/></g>
<path d="M75.5 156.5 V297.5 H1489.5 V156.5" fill="none" stroke="#000" stroke-width="1"/>
<line x1="75" y1="156.5" x2="86" y2="156.5" stroke="#000"/>
<line x1="1479" y1="156.5" x2="1490" y2="156.5" stroke="#000"/>
<line x1="75" y1="192.5" x2="86" y2="192.5" stroke="#000"/>
<line x1="1479" y1="192.5" x2="1490" y2="192.5" stroke="#000"/>
<line x1="75" y1="227.5" x2="86" y2="227.5" stroke="#000"/>
<line x1="1479" y1="227.5" x2="1490" y2="227.5" stroke="#000"/>
<line x1="75" y1="262.5" x2="86" y2="262.5" stroke="#000"/>
<line x1="1479" y1="262.5" x2="1490" y2="262.5" stroke="#000"/>
<line x1="75" y1="297.5" x2="86" y2="297.5" stroke="#000"/>
<line x1="1479" y1="297.5" x2="1490" y2="297.5" stroke="#000"/>
<line x1="175.5" y1="287" x2="175.5" y2="297" stroke="#000"/>
<line x1="297.5" y1="287" x2="297.5" y2="297" stroke="#000"/>
<line x1="417.5" y1="287" x2="417.5" y2="297" stroke="#000"/>
<line x1="539.5" y1="287" x2="539.5" y2="297" stroke="#000"/>
<line x1="659.5" y1="287" x2="659.5" y2="297" stroke="#000"/>
<line x1="781.5" y1="287" x2="781.5" y2="297" stroke="#000"/>
<line x1="902.5" y1="287" x2="902.5" y2="297" stroke="#000"/>
<line x1="1023.5" y1="287" x2="1023.5" y2="297" stroke="#000"/>
<line x1="1144.5" y1="287" x2="1144.5" y2="297" stroke="#000"/>
<line x1="1266.5" y1="287" x2="1266.5" y2="297" stroke="#000"/>
<line x1="1386.5" y1="287" x2="1386.5" y2="297" stroke="#000"/>
<text x="72.8" y="160.0" text-anchor="end" class="al">10000</text>
<text x="1494" y="160.0" class="al">10000</text>
<text x="72.8" y="195.0" text-anchor="end" class="al">7500</text>
<text x="1494" y="195.0" class="al">7500</text>
<text x="72.8" y="230.0" text-anchor="end" class="al">5000</text>
<text x="1494" y="230.0" class="al">5000</text>
<text x="72.8" y="265.0" text-anchor="end" class="al">2500</text>
<text x="1494" y="265.0" class="al">2500</text>
<text x="72.8" y="300.0" text-anchor="end" class="al">0</text>
<text x="1494" y="300.0" class="al">0</text>
<text x="175.8" y="316" text-anchor="middle" class="al">13/06/01</text>
<text x="297.8" y="316" text-anchor="middle" class="al">13/12/01</text>
<text x="417.8" y="316" text-anchor="middle" class="al">14/06/01</text>
<text x="539.8" y="316" text-anchor="middle" class="al">14/12/01</text>
<text x="659.8" y="316" text-anchor="middle" class="al">15/06/01</text>
<text x="781.8" y="316" text-anchor="middle" class="al">15/12/01</text>
<text x="902.8" y="316" text-anchor="middle" class="al">16/06/01</text>
<text x="1023.8" y="316" text-anchor="middle" class="al">16/12/01</text>
<text x="1144.8" y="316" text-anchor="middle" class="al">17/06/01</text>
<text x="1266.8" y="316" text-anchor="middle" class="al">17/12/01</text>
<text x="1386.8" y="316" text-anchor="middle" class="al">18/06/01</text>
<rect x="76" y="396" width="1413" height="26" fill="#f5f6f8"/>
<rect x="76" y="451" width="1413" height="26" fill="#f5f6f8"/>
<line x1="75" y1="367.5" x2="1489" y2="367.5" stroke="#e1e1e1" stroke-width="1"/>
<line x1="75" y1="395.5" x2="1489" y2="395.5" stroke="#e1e1e1" stroke-width="1"/>
<line x1="75" y1="422.5" x2="1489" y2="422.5" stroke="#e1e1e1" stroke-width="1"/>
<line x1="75" y1="450.5" x2="1489" y2="450.5" stroke="#e1e1e1" stroke-width="1"/>
<line x1="175.5" y1="367" x2="175.5" y2="477" stroke="#e1e1e1" stroke-width="1"/>
<line x1="297.5" y1="367" x2="297.5" y2="477" stroke="#e1e1e1" stroke-width="1"/>
<line x1="417.5" y1="367" x2="417.5" y2="477" stroke="#e1e1e1" stroke-width="1"/>
<line x1="539.5" y1="367" x2="539.5" y2="477" stroke="#e1e1e1" stroke-width="1"/>
<line x1="659.5" y1="367" x2="659.5" y2="477" stroke="#e1e1e1" stroke-width="1"/>
<line x1="781.5" y1="367" x2="781.5" y2="477" stroke="#e1e1e1" stroke-width="1"/>
<line x1="902.5" y1="367" x2="902.5" y2="477" stroke="#e1e1e1" stroke-width="1"/>
<line x1="1023.5" y1="367" x2="1023.5" y2="477" stroke="#e1e1e1" stroke-width="1"/>
<line x1="1144.5" y1="367" x2="1144.5" y2="477" stroke="#e1e1e1" stroke-width="1"/>
<line x1="1266.5" y1="367" x2="1266.5" y2="477" stroke="#e1e1e1" stroke-width="1"/>
<line x1="1386.5" y1="367" x2="1386.5" y2="477" stroke="#e1e1e1" stroke-width="1"/>
<line x1="175.5" y1="467" x2="175.5" y2="477" stroke="#000"/>
<line x1="297.5" y1="467" x2="297.5" y2="477" stroke="#000"/>
<line x1="417.5" y1="467" x2="417.5" y2="477" stroke="#000"/>
<line x1="539.5" y1="467" x2="539.5" y2="477" stroke="#000"/>
<line x1="659.5" y1="467" x2="659.5" y2="477" stroke="#000"/>
<line x1="781.5" y1="467" x2="781.5" y2="477" stroke="#000"/>
<line x1="902.5" y1="467" x2="902.5" y2="477" stroke="#000"/>
<line x1="1023.5" y1="467" x2="1023.5" y2="477" stroke="#000"/>
<line x1="1144.5" y1="467" x2="1144.5" y2="477" stroke="#000"/>
<line x1="1266.5" y1="467" x2="1266.5" y2="477" stroke="#000"/>
<line x1="1386.5" y1="467" x2="1386.5" y2="477" stroke="#000"/>
<path d="M89.1,477 L89.1,455.3 L103.0,433.0 L123.2,421.2 L145.2,419.1 L165.2,418.1 L185.8,426.5 L204.4,433.0 L220.7,435.1 L241.3,444.2 L260.4,429.6 L286.4,420.9 L304.1,428.5 L323.6,436.5 L347.3,447.0 L368.2,433.0 L381.4,428.5 L406.5,411.7 L426.0,418.8 L444.4,430.3 L464.0,418.0 L469.1,427.5 L472.5,427.5 L477.4,426.1 L483.7,429.6 L487.2,427.1 L492.0,429.6 L497.6,428.5 L502.5,425.1 L507.4,425.4 L511.5,426.5 L517.1,424.0 L522.0,415.9 L529.6,416.3 L535.2,422.9 L542.9,421.9 L549.8,419.1 L557.5,424.0 L561.0,430.3 L565.8,433.0 L574.9,425.1 L579.8,426.5 L585.3,424.0 L590.2,428.9 L594.4,442.8 L597.2,437.9 L608.3,434.4 L613.2,436.5 L616.7,426.1 L625.5,416.3 L632.7,425.4 L635.5,436.3 L645.2,433.0 L650.5,440.4 L655.6,438.6 L668.1,436.3 L673.7,434.9 L676.5,429.6 L685.5,424.3 L691.8,434.9 L696.4,438.2 L701.5,434.9 L705.4,424.0 L711.3,440.4 L713.4,436.8 L720.3,446.0 L723.8,444.9 L729.4,446.3 L744.7,433.7 L749.2,426.1 L758.6,430.3 L764.2,426.8 L770.1,419.1 L776.7,430.3 L785.1,419.1 L793.5,427.5 L798.3,427.2 L803.2,417.3 L807.4,421.9 L812.3,430.3 L815.7,428.2 L821.0,430.3 L823.4,426.8 L829.7,425.4 L835.2,429.6 L838.7,421.9 L846.3,423.3 L847.0,418.4 L853.9,416.3 L857.4,413.1 L864.4,418.4 L868.3,412.2 L875.2,427.1 L881.8,421.9 L890.4,406.6 L896.4,419.8 L901.3,419.5 L906.2,418.4 L912.4,409.4 L918.0,412.2 L929.1,416.3 L937.5,418.4 L942.4,417.7 L947.2,421.5 L952.1,418.1 L955.6,420.5 L959.5,428.5 L963.3,421.5 L976.5,417.3 L984.8,417.3 L989.3,425.4 L993.2,418.1 L1002.3,425.7 L1007.8,426.1 L1011.3,434.9 L1014.8,435.1 L1018.3,432.1 L1023.6,432.1 L1026.6,426.1 L1030.1,426.8 L1034.3,434.4 L1037.5,432.4 L1041.8,444.2 L1043.2,438.6 L1047.4,442.8 L1054.4,436.5 L1059.2,434.4 L1061.3,431.7 L1066.2,429.8 L1072.5,438.2 L1077.4,428.2 L1083.2,460.2 L1085.0,456.0 L1088.5,456.7 L1093.4,446.3 L1098.2,444.2 L1102.4,437.2 L1105.9,428.2 L1112.2,427.1 L1117.7,428.2 L1124.7,430.3 L1131.0,424.7 L1134.5,424.0 L1141.4,414.9 L1148.4,415.4 L1156.0,417.3 L1160.2,426.5 L1164.4,425.4 L1170.7,425.4 L1175.5,426.5 L1180.4,418.4 L1186.7,425.1 L1194.3,441.4 L1199.2,433.7 L1215.9,441.4 L1221.5,440.4 L1229.1,434.9 L1235.3,433.0 L1240.9,427.1 L1252.0,428.2 L1259.7,428.5 L1284.3,424.3 L1299.4,445.2 L1307.0,447.0 L1311.2,442.8 L1316.1,445.2 L1320.0,435.8 L1323.8,435.8 L1325.8,438.6 L1327.9,436.3 L1332.8,437.9 L1334.9,447.0 L1339.1,448.0 L1341.2,451.2 L1345.3,450.2 L1353.0,451.6 L1357.2,448.4 L1364.2,447.0 L1367.6,449.3 L1371.8,450.2 L1375.3,447.0 L1380.2,435.1 L1406.3,438.2 L1411.3,441.4 L1417.1,437.2 L1423.4,437.2 L1445.7,440.4 L1449.2,438.2 L1453.4,439.3 L1462.4,436.3 L1469.1,461.3 L1473.6,460.9 L1475.2,456.0 L1475.2,477 Z" fill="#f06335" fill-opacity="0.56"/>
<path d="M89.1,449.3 L103.0,426.1 L123.2,413.1 L145.2,412.2 L165.2,412.2 L185.8,421.5 L204.4,428.5 L220.7,430.3 L241.3,439.3 L260.4,422.9 L286.4,415.0 L304.1,424.7 L323.6,433.0 L347.3,441.4 L368.2,425.4 L381.4,421.9 L406.5,402.0 L426.0,415.0 L444.4,425.4 L464.0,412.2 L469.1,421.2 L472.5,421.5 L477.4,418.1 L483.7,422.3 L487.2,421.5 L492.0,422.9 L497.6,421.9 L502.5,418.1 L507.4,418.4 L511.5,419.1 L517.1,417.0 L522.0,407.0 L529.6,407.0 L535.2,413.6 L542.9,413.3 L549.8,411.2 L557.5,414.2 L561.0,417.7 L565.8,426.8 L574.9,419.1 L579.8,420.5 L585.3,418.4 L590.2,421.9 L594.4,434.4 L597.2,431.7 L608.3,427.2 L613.2,426.5 L616.7,417.3 L625.5,407.0 L632.7,418.4 L635.5,430.3 L645.2,427.1 L650.5,434.0 L655.6,434.0 L668.1,430.7 L673.7,429.6 L676.5,423.3 L685.5,418.4 L691.8,427.5 L696.4,432.4 L701.5,429.3 L705.4,418.1 L711.3,434.4 L713.4,432.1 L720.3,441.4 L723.8,440.0 L729.4,440.7 L744.7,427.5 L749.2,421.5 L758.6,424.7 L764.2,419.1 L770.1,412.2 L776.7,422.6 L785.1,412.2 L793.5,419.5 L798.3,419.8 L803.2,412.2 L807.4,414.2 L812.3,422.6 L815.7,421.9 L821.0,423.3 L823.4,419.1 L829.7,417.3 L835.2,421.9 L838.7,414.0 L846.3,415.0 L847.0,410.8 L853.9,408.7 L857.4,405.2 L864.4,410.8 L868.3,403.1 L875.2,418.4 L881.8,412.2 L890.4,394.1 L896.4,405.9 L901.3,406.2 L906.2,407.6 L912.4,400.0 L918.0,404.2 L929.1,407.3 L937.5,410.8 L942.4,409.4 L947.2,414.2 L952.1,412.2 L955.6,414.2 L959.5,421.9 L963.3,413.6 L976.5,409.4 L984.8,410.8 L989.3,418.1 L993.2,412.2 L1002.3,419.1 L1007.8,421.5 L1011.3,429.3 L1014.8,429.3 L1018.3,425.4 L1023.6,425.4 L1026.6,419.1 L1030.1,421.9 L1034.3,428.9 L1037.5,426.1 L1041.8,435.8 L1043.2,434.9 L1047.4,438.6 L1054.4,432.4 L1059.2,429.6 L1061.3,426.5 L1066.2,427.5 L1072.5,434.0 L1077.4,425.4 L1083.2,451.6 L1085.0,451.6 L1088.5,451.2 L1093.4,440.7 L1098.2,438.6 L1102.4,430.3 L1105.9,424.0 L1112.2,422.3 L1117.7,422.6 L1124.7,425.7 L1131.0,419.8 L1134.5,418.7 L1141.4,408.4 L1148.4,409.0 L1156.0,411.2 L1160.2,420.9 L1164.4,419.5 L1170.7,419.5 L1175.5,421.5 L1180.4,413.6 L1186.7,419.5 L1194.3,436.8 L1199.2,428.5 L1215.9,436.5 L1221.5,436.8 L1229.1,430.3 L1235.3,428.9 L1240.9,422.9 L1252.0,424.3 L1259.7,423.3 L1284.3,417.3 L1299.4,440.0 L1307.0,441.0 L1311.2,437.6 L1316.1,439.6 L1320.0,432.1 L1323.8,432.1 L1325.8,433.7 L1327.9,433.0 L1332.8,435.1 L1334.9,442.8 L1339.1,443.2 L1341.2,445.6 L1345.3,444.9 L1353.0,446.0 L1357.2,443.8 L1364.2,443.2 L1367.6,445.2 L1371.8,445.2 L1375.3,443.2 L1380.2,430.3 L1406.3,433.3 L1411.3,436.8 L1417.1,432.7 L1423.4,432.1 L1445.7,435.1 L1449.2,433.0 L1453.4,434.0 L1462.4,432.1 L1469.1,458.8 L1473.6,459.5 L1475.2,453.9 L1475.2,456.0 L1473.6,460.9 L1469.1,461.3 L1462.4,436.3 L1453.4,439.3 L1449.2,438.2 L1445.7,440.4 L1423.4,437.2 L1417.1,437.2 L1411.3,441.4 L1406.3,438.2 L1380.2,435.1 L1375.3,447.0 L1371.8,450.2 L1367.6,449.3 L1364.2,447.0 L1357.2,448.4 L1353.0,451.6 L1345.3,450.2 L1341.2,451.2 L1339.1,448.0 L1334.9,447.0 L1332.8,437.9 L1327.9,436.3 L1325.8,438.6 L1323.8,435.8 L1320.0,435.8 L1316.1,445.2 L1311.2,442.8 L1307.0,447.0 L1299.4,445.2 L1284.3,424.3 L1259.7,428.5 L1252.0,428.2 L1240.9,427.1 L1235.3,433.0 L1229.1,434.9 L1221.5,440.4 L1215.9,441.4 L1199.2,433.7 L1194.3,441.4 L1186.7,425.1 L1180.4,418.4 L1175.5,426.5 L1170.7,425.4 L1164.4,425.4 L1160.2,426.5 L1156.0,417.3 L1148.4,415.4 L1141.4,414.9 L1134.5,424.0 L1131.0,424.7 L1124.7,430.3 L1117.7,428.2 L1112.2,427.1 L1105.9,428.2 L1102.4,437.2 L1098.2,444.2 L1093.4,446.3 L1088.5,456.7 L1085.0,456.0 L1083.2,460.2 L1077.4,428.2 L1072.5,438.2 L1066.2,429.8 L1061.3,431.7 L1059.2,434.4 L1054.4,436.5 L1047.4,442.8 L1043.2,438.6 L1041.8,444.2 L1037.5,432.4 L1034.3,434.4 L1030.1,426.8 L1026.6,426.1 L1023.6,432.1 L1018.3,432.1 L1014.8,435.1 L1011.3,434.9 L1007.8,426.1 L1002.3,425.7 L993.2,418.1 L989.3,425.4 L984.8,417.3 L976.5,417.3 L963.3,421.5 L959.5,428.5 L955.6,420.5 L952.1,418.1 L947.2,421.5 L942.4,417.7 L937.5,418.4 L929.1,416.3 L918.0,412.2 L912.4,409.4 L906.2,418.4 L901.3,419.5 L896.4,419.8 L890.4,406.6 L881.8,421.9 L875.2,427.1 L868.3,412.2 L864.4,418.4 L857.4,413.1 L853.9,416.3 L847.0,418.4 L846.3,423.3 L838.7,421.9 L835.2,429.6 L829.7,425.4 L823.4,426.8 L821.0,430.3 L815.7,428.2 L812.3,430.3 L807.4,421.9 L803.2,417.3 L798.3,427.2 L793.5,427.5 L785.1,419.1 L776.7,430.3 L770.1,419.1 L764.2,426.8 L758.6,430.3 L749.2,426.1 L744.7,433.7 L729.4,446.3 L723.8,444.9 L720.3,446.0 L713.4,436.8 L711.3,440.4 L705.4,424.0 L701.5,434.9 L696.4,438.2 L691.8,434.9 L685.5,424.3 L676.5,429.6 L673.7,434.9 L668.1,436.3 L655.6,438.6 L650.5,440.4 L645.2,433.0 L635.5,436.3 L632.7,425.4 L625.5,416.3 L616.7,426.1 L613.2,436.5 L608.3,434.4 L597.2,437.9 L594.4,442.8 L590.2,428.9 L585.3,424.0 L579.8,426.5 L574.9,425.1 L565.8,433.0 L561.0,430.3 L557.5,424.0 L549.8,419.1 L542.9,421.9 L535.2,422.9 L529.6,416.3 L522.0,415.9 L517.1,424.0 L511.5,426.5 L507.4,425.4 L502.5,425.1 L497.6,428.5 L492.0,429.6 L487.2,427.1 L483.7,429.6 L477.4,426.1 L472.5,427.5 L469.1,427.5 L464.0,418.0 L444.4,430.3 L426.0,418.8 L406.5,411.7 L381.4,428.5 L368.2,433.0 L347.3,447.0 L323.6,436.5 L304.1,428.5 L286.4,420.9 L260.4,429.6 L241.3,444.2 L220.7,435.1 L204.4,433.0 L185.8,426.5 L165.2,418.1 L145.2,419.1 L123.2,421.2 L103.0,433.0 L89.1,455.3 Z" fill="#6f9db0" fill-opacity="0.55"/>
<polyline points="89.1,455.3 103.0,433.0 123.2,421.2 145.2,419.1 165.2,418.1 185.8,426.5 204.4,433.0 220.7,435.1 241.3,444.2 260.4,429.6 286.4,420.9 304.1,428.5 323.6,436.5 347.3,447.0 368.2,433.0 381.4,428.5 406.5,411.7 426.0,418.8 444.4,430.3 464.0,418.0 469.1,427.5 472.5,427.5 477.4,426.1 483.7,429.6 487.2,427.1 492.0,429.6 497.6,428.5 502.5,425.1 507.4,425.4 511.5,426.5 517.1,424.0 522.0,415.9 529.6,416.3 535.2,422.9 542.9,421.9 549.8,419.1 557.5,424.0 561.0,430.3 565.8,433.0 574.9,425.1 579.8,426.5 585.3,424.0 590.2,428.9 594.4,442.8 597.2,437.9 608.3,434.4 613.2,436.5 616.7,426.1 625.5,416.3 632.7,425.4 635.5,436.3 645.2,433.0 650.5,440.4 655.6,438.6 668.1,436.3 673.7,434.9 676.5,429.6 685.5,424.3 691.8,434.9 696.4,438.2 701.5,434.9 705.4,424.0 711.3,440.4 713.4,436.8 720.3,446.0 723.8,444.9 729.4,446.3 744.7,433.7 749.2,426.1 758.6,430.3 764.2,426.8 770.1,419.1 776.7,430.3 785.1,419.1 793.5,427.5 798.3,427.2 803.2,417.3 807.4,421.9 812.3,430.3 815.7,428.2 821.0,430.3 823.4,426.8 829.7,425.4 835.2,429.6 838.7,421.9 846.3,423.3 847.0,418.4 853.9,416.3 857.4,413.1 864.4,418.4 868.3,412.2 875.2,427.1 881.8,421.9 890.4,406.6 896.4,419.8 901.3,419.5 906.2,418.4 912.4,409.4 918.0,412.2 929.1,416.3 937.5,418.4 942.4,417.7 947.2,421.5 952.1,418.1 955.6,420.5 959.5,428.5 963.3,421.5 976.5,417.3 984.8,417.3 989.3,425.4 993.2,418.1 1002.3,425.7 1007.8,426.1 1011.3,434.9 1014.8,435.1 1018.3,432.1 1023.6,432.1 1026.6,426.1 1030.1,426.8 1034.3,434.4 1037.5,432.4 1041.8,444.2 1043.2,438.6 1047.4,442.8 1054.4,436.5 1059.2,434.4 1061.3,431.7 1066.2,429.8 1072.5,438.2 1077.4,428.2 1083.2,460.2 1085.0,456.0 1088.5,456.7 1093.4,446.3 1098.2,444.2 1102.4,437.2 1105.9,428.2 1112.2,427.1 1117.7,428.2 1124.7,430.3 1131.0,424.7 1134.5,424.0 1141.4,414.9 1148.4,415.4 1156.0,417.3 1160.2,426.5 1164.4,425.4 1170.7,425.4 1175.5,426.5 1180.4,418.4 1186.7,425.1 1194.3,441.4 1199.2,433.7 1215.9,441.4 1221.5,440.4 1229.1,434.9 1235.3,433.0 1240.9,427.1 1252.0,428.2 1259.7,428.5 1284.3,424.3 1299.4,445.2 1307.0,447.0 1311.2,442.8 1316.1,445.2 1320.0,435.8 1323.8,435.8 1325.8,438.6 1327.9,436.3 1332.8,437.9 1334.9,447.0 1339.1,448.0 1341.2,451.2 1345.3,450.2 1353.0,451.6 1357.2,448.4 1364.2,447.0 1367.6,449.3 1371.8,450.2 1375.3,447.0 1380.2,435.1 1406.3,438.2 1411.3,441.4 1417.1,437.2 1423.4,437.2 1445.7,440.4 1449.2,438.2 1453.4,439.3 1462.4,436.3 1469.1,461.3 1473.6,460.9 1475.2,456.0" fill="none" stroke="#f06a3a" stroke-width="2.2" stroke-linejoin="round" stroke-linecap="round"/>
<g fill="#f06a3a"><circle cx="89.1" cy="455.3" r="1.6"/><circle cx="103.0" cy="433.0" r="1.6"/><circle cx="123.2" cy="421.2" r="1.6"/><circle cx="145.2" cy="419.1" r="1.6"/><circle cx="165.2" cy="418.1" r="1.6"/><circle cx="185.8" cy="426.5" r="1.6"/><circle cx="204.4" cy="433.0" r="1.6"/><circle cx="220.7" cy="435.1" r="1.6"/><circle cx="241.3" cy="444.2" r="1.6"/><circle cx="260.4" cy="429.6" r="1.6"/><circle cx="286.4" cy="420.9" r="1.6"/><circle cx="304.1" cy="428.5" r="1.6"/><circle cx="323.6" cy="436.5" r="1.6"/><circle cx="347.3" cy="447.0" r="1.6"/><circle cx="368.2" cy="433.0" r="1.6"/><circle cx="381.4" cy="428.5" r="1.6"/><circle cx="406.5" cy="411.7" r="1.6"/><circle cx="426.0" cy="418.8" r="1.6"/><circle cx="444.4" cy="430.3" r="1.6"/><circle cx="464.0" cy="418.0" r="1.6"/><circle cx="469.1" cy="427.5" r="1.6"/><circle cx="472.5" cy="427.5" r="1.6"/><circle cx="477.4" cy="426.1" r="1.6"/><circle cx="483.7" cy="429.6" r="1.6"/><circle cx="487.2" cy="427.1" r="1.6"/><circle cx="492.0" cy="429.6" r="1.6"/><circle cx="497.6" cy="428.5" r="1.6"/><circle cx="502.5" cy="425.1" r="1.6"/><circle cx="507.4" cy="425.4" r="1.6"/><circle cx="511.5" cy="426.5" r="1.6"/><circle cx="517.1" cy="424.0" r="1.6"/><circle cx="522.0" cy="415.9" r="1.6"/><circle cx="529.6" cy="416.3" r="1.6"/><circle cx="535.2" cy="422.9" r="1.6"/><circle cx="542.9" cy="421.9" r="1.6"/><circle cx="549.8" cy="419.1" r="1.6"/><circle cx="557.5" cy="424.0" r="1.6"/><circle cx="561.0" cy="430.3" r="1.6"/><circle cx="565.8" cy="433.0" r="1.6"/><circle cx="574.9" cy="425.1" r="1.6"/><circle cx="579.8" cy="426.5" r="1.6"/><circle cx="585.3" cy="424.0" r="1.6"/><circle cx="590.2" cy="428.9" r="1.6"/><circle cx="594.4" cy="442.8" r="1.6"/><circle cx="597.2" cy="437.9" r="1.6"/><circle cx="608.3" cy="434.4" r="1.6"/><circle cx="613.2" cy="436.5" r="1.6"/><circle cx="616.7" cy="426.1" r="1.6"/><circle cx="625.5" cy="416.3" r="1.6"/><circle cx="632.7" cy="425.4" r="1.6"/><circle cx="635.5" cy="436.3" r="1.6"/><circle cx="645.2" cy="433.0" r="1.6"/><circle cx="650.5" cy="440.4" r="1.6"/><circle cx="655.6" cy="438.6" r="1.6"/><circle cx="668.1" cy="436.3" r="1.6"/><circle cx="673.7" cy="434.9" r="1.6"/><circle cx="676.5" cy="429.6" r="1.6"/><circle cx="685.5" cy="424.3" r="1.6"/><circle cx="691.8" cy="434.9" r="1.6"/><circle cx="696.4" cy="438.2" r="1.6"/><circle cx="701.5" cy="434.9" r="1.6"/><circle cx="705.4" cy="424.0" r="1.6"/><circle cx="711.3" cy="440.4" r="1.6"/><circle cx="713.4" cy="436.8" r="1.6"/><circle cx="720.3" cy="446.0" r="1.6"/><circle cx="723.8" cy="444.9" r="1.6"/><circle cx="729.4" cy="446.3" r="1.6"/><circle cx="744.7" cy="433.7" r="1.6"/><circle cx="749.2" cy="426.1" r="1.6"/><circle cx="758.6" cy="430.3" r="1.6"/><circle cx="764.2" cy="426.8" r="1.6"/><circle cx="770.1" cy="419.1" r="1.6"/><circle cx="776.7" cy="430.3" r="1.6"/><circle cx="785.1" cy="419.1" r="1.6"/><circle cx="793.5" cy="427.5" r="1.6"/><circle cx="798.3" cy="427.2" r="1.6"/><circle cx="803.2" cy="417.3" r="1.6"/><circle cx="807.4" cy="421.9" r="1.6"/><circle cx="812.3" cy="430.3" r="1.6"/><circle cx="815.7" cy="428.2" r="1.6"/><circle cx="821.0" cy="430.3" r="1.6"/><circle cx="823.4" cy="426.8" r="1.6"/><circle cx="829.7" cy="425.4" r="1.6"/><circle cx="835.2" cy="429.6" r="1.6"/><circle cx="838.7" cy="421.9" r="1.6"/><circle cx="846.3" cy="423.3" r="1.6"/><circle cx="847.0" cy="418.4" r="1.6"/><circle cx="853.9" cy="416.3" r="1.6"/><circle cx="857.4" cy="413.1" r="1.6"/><circle cx="864.4" cy="418.4" r="1.6"/><circle cx="868.3" cy="412.2" r="1.6"/><circle cx="875.2" cy="427.1" r="1.6"/><circle cx="881.8" cy="421.9" r="1.6"/><circle cx="890.4" cy="406.6" r="1.6"/><circle cx="896.4" cy="419.8" r="1.6"/><circle cx="901.3" cy="419.5" r="1.6"/><circle cx="906.2" cy="418.4" r="1.6"/><circle cx="912.4" cy="409.4" r="1.6"/><circle cx="918.0" cy="412.2" r="1.6"/><circle cx="929.1" cy="416.3" r="1.6"/><circle cx="937.5" cy="418.4" r="1.6"/><circle cx="942.4" cy="417.7" r="1.6"/><circle cx="947.2" cy="421.5" r="1.6"/><circle cx="952.1" cy="418.1" r="1.6"/><circle cx="955.6" cy="420.5" r="1.6"/><circle cx="959.5" cy="428.5" r="1.6"/><circle cx="963.3" cy="421.5" r="1.6"/><circle cx="976.5" cy="417.3" r="1.6"/><circle cx="984.8" cy="417.3" r="1.6"/><circle cx="989.3" cy="425.4" r="1.6"/><circle cx="993.2" cy="418.1" r="1.6"/><circle cx="1002.3" cy="425.7" r="1.6"/><circle cx="1007.8" cy="426.1" r="1.6"/><circle cx="1011.3" cy="434.9" r="1.6"/><circle cx="1014.8" cy="435.1" r="1.6"/><circle cx="1018.3" cy="432.1" r="1.6"/><circle cx="1023.6" cy="432.1" r="1.6"/><circle cx="1026.6" cy="426.1" r="1.6"/><circle cx="1030.1" cy="426.8" r="1.6"/><circle cx="1034.3" cy="434.4" r="1.6"/><circle cx="1037.5" cy="432.4" r="1.6"/><circle cx="1041.8" cy="444.2" r="1.6"/><circle cx="1043.2" cy="438.6" r="1.6"/><circle cx="1047.4" cy="442.8" r="1.6"/><circle cx="1054.4" cy="436.5" r="1.6"/><circle cx="1059.2" cy="434.4" r="1.6"/><circle cx="1061.3" cy="431.7" r="1.6"/><circle cx="1066.2" cy="429.8" r="1.6"/><circle cx="1072.5" cy="438.2" r="1.6"/><circle cx="1077.4" cy="428.2" r="1.6"/><circle cx="1083.2" cy="460.2" r="1.6"/><circle cx="1085.0" cy="456.0" r="1.6"/><circle cx="1088.5" cy="456.7" r="1.6"/><circle cx="1093.4" cy="446.3" r="1.6"/><circle cx="1098.2" cy="444.2" r="1.6"/><circle cx="1102.4" cy="437.2" r="1.6"/><circle cx="1105.9" cy="428.2" r="1.6"/><circle cx="1112.2" cy="427.1" r="1.6"/><circle cx="1117.7" cy="428.2" r="1.6"/><circle cx="1124.7" cy="430.3" r="1.6"/><circle cx="1131.0" cy="424.7" r="1.6"/><circle cx="1134.5" cy="424.0" r="1.6"/><circle cx="1141.4" cy="414.9" r="1.6"/><circle cx="1148.4" cy="415.4" r="1.6"/><circle cx="1156.0" cy="417.3" r="1.6"/><circle cx="1160.2" cy="426.5" r="1.6"/><circle cx="1164.4" cy="425.4" r="1.6"/><circle cx="1170.7" cy="425.4" r="1.6"/><circle cx="1175.5" cy="426.5" r="1.6"/><circle cx="1180.4" cy="418.4" r="1.6"/><circle cx="1186.7" cy="425.1" r="1.6"/><circle cx="1194.3" cy="441.4" r="1.6"/><circle cx="1199.2" cy="433.7" r="1.6"/><circle cx="1215.9" cy="441.4" r="1.6"/><circle cx="1221.5" cy="440.4" r="1.6"/><circle cx="1229.1" cy="434.9" r="1.6"/><circle cx="1235.3" cy="433.0" r="1.6"/><circle cx="1240.9" cy="427.1" r="1.6"/><circle cx="1252.0" cy="428.2" r="1.6"/><circle cx="1259.7" cy="428.5" r="1.6"/><circle cx="1284.3" cy="424.3" r="1.6"/><circle cx="1299.4" cy="445.2" r="1.6"/><circle cx="1307.0" cy="447.0" r="1.6"/><circle cx="1311.2" cy="442.8" r="1.6"/><circle cx="1316.1" cy="445.2" r="1.6"/><circle cx="1320.0" cy="435.8" r="1.6"/><circle cx="1323.8" cy="435.8" r="1.6"/><circle cx="1325.8" cy="438.6" r="1.6"/><circle cx="1327.9" cy="436.3" r="1.6"/><circle cx="1332.8" cy="437.9" r="1.6"/><circle cx="1334.9" cy="447.0" r="1.6"/><circle cx="1339.1" cy="448.0" r="1.6"/><circle cx="1341.2" cy="451.2" r="1.6"/><circle cx="1345.3" cy="450.2" r="1.6"/><circle cx="1353.0" cy="451.6" r="1.6"/><circle cx="1357.2" cy="448.4" r="1.6"/><circle cx="1364.2" cy="447.0" r="1.6"/><circle cx="1367.6" cy="449.3" r="1.6"/><circle cx="1371.8" cy="450.2" r="1.6"/><circle cx="1375.3" cy="447.0" r="1.6"/><circle cx="1380.2" cy="435.1" r="1.6"/><circle cx="1406.3" cy="438.2" r="1.6"/><circle cx="1411.3" cy="441.4" r="1.6"/><circle cx="1417.1" cy="437.2" r="1.6"/><circle cx="1423.4" cy="437.2" r="1.6"/><circle cx="1445.7" cy="440.4" r="1.6"/><circle cx="1449.2" cy="438.2" r="1.6"/><circle cx="1453.4" cy="439.3" r="1.6"/><circle cx="1462.4" cy="436.3" r="1.6"/><circle cx="1469.1" cy="461.3" r="1.6"/><circle cx="1473.6" cy="460.9" r="1.6"/><circle cx="1475.2" cy="456.0" r="1.6"/></g>
<polyline points="89.1,449.3 103.0,426.1 123.2,413.1 145.2,412.2 165.2,412.2 185.8,421.5 204.4,428.5 220.7,430.3 241.3,439.3 260.4,422.9 286.4,415.0 304.1,424.7 323.6,433.0 347.3,441.4 368.2,425.4 381.4,421.9 406.5,402.0 426.0,415.0 444.4,425.4 464.0,412.2 469.1,421.2 472.5,421.5 477.4,418.1 483.7,422.3 487.2,421.5 492.0,422.9 497.6,421.9 502.5,418.1 507.4,418.4 511.5,419.1 517.1,417.0 522.0,407.0 529.6,407.0 535.2,413.6 542.9,413.3 549.8,411.2 557.5,414.2 561.0,417.7 565.8,426.8 574.9,419.1 579.8,420.5 585.3,418.4 590.2,421.9 594.4,434.4 597.2,431.7 608.3,427.2 613.2,426.5 616.7,417.3 625.5,407.0 632.7,418.4 635.5,430.3 645.2,427.1 650.5,434.0 655.6,434.0 668.1,430.7 673.7,429.6 676.5,423.3 685.5,418.4 691.8,427.5 696.4,432.4 701.5,429.3 705.4,418.1 711.3,434.4 713.4,432.1 720.3,441.4 723.8,440.0 729.4,440.7 744.7,427.5 749.2,421.5 758.6,424.7 764.2,419.1 770.1,412.2 776.7,422.6 785.1,412.2 793.5,419.5 798.3,419.8 803.2,412.2 807.4,414.2 812.3,422.6 815.7,421.9 821.0,423.3 823.4,419.1 829.7,417.3 835.2,421.9 838.7,414.0 846.3,415.0 847.0,410.8 853.9,408.7 857.4,405.2 864.4,410.8 868.3,403.1 875.2,418.4 881.8,412.2 890.4,394.1 896.4,405.9 901.3,406.2 906.2,407.6 912.4,400.0 918.0,404.2 929.1,407.3 937.5,410.8 942.4,409.4 947.2,414.2 952.1,412.2 955.6,414.2 959.5,421.9 963.3,413.6 976.5,409.4 984.8,410.8 989.3,418.1 993.2,412.2 1002.3,419.1 1007.8,421.5 1011.3,429.3 1014.8,429.3 1018.3,425.4 1023.6,425.4 1026.6,419.1 1030.1,421.9 1034.3,428.9 1037.5,426.1 1041.8,435.8 1043.2,434.9 1047.4,438.6 1054.4,432.4 1059.2,429.6 1061.3,426.5 1066.2,427.5 1072.5,434.0 1077.4,425.4 1083.2,451.6 1085.0,451.6 1088.5,451.2 1093.4,440.7 1098.2,438.6 1102.4,430.3 1105.9,424.0 1112.2,422.3 1117.7,422.6 1124.7,425.7 1131.0,419.8 1134.5,418.7 1141.4,408.4 1148.4,409.0 1156.0,411.2 1160.2,420.9 1164.4,419.5 1170.7,419.5 1175.5,421.5 1180.4,413.6 1186.7,419.5 1194.3,436.8 1199.2,428.5 1215.9,436.5 1221.5,436.8 1229.1,430.3 1235.3,428.9 1240.9,422.9 1252.0,424.3 1259.7,423.3 1284.3,417.3 1299.4,440.0 1307.0,441.0 1311.2,437.6 1316.1,439.6 1320.0,432.1 1323.8,432.1 1325.8,433.7 1327.9,433.0 1332.8,435.1 1334.9,442.8 1339.1,443.2 1341.2,445.6 1345.3,444.9 1353.0,446.0 1357.2,443.8 1364.2,443.2 1367.6,445.2 1371.8,445.2 1375.3,443.2 1380.2,430.3 1406.3,433.3 1411.3,436.8 1417.1,432.7 1423.4,432.1 1445.7,435.1 1449.2,433.0 1453.4,434.0 1462.4,432.1 1469.1,458.8 1473.6,459.5 1475.2,453.9" fill="none" stroke="#6496a8" stroke-width="2.4" stroke-linejoin="round" stroke-linecap="round"/>
<g fill="#6496a8"><circle cx="89.1" cy="449.3" r="1.6"/><circle cx="103.0" cy="426.1" r="1.6"/><circle cx="123.2" cy="413.1" r="1.6"/><circle cx="145.2" cy="412.2" r="1.6"/><circle cx="165.2" cy="412.2" r="1.6"/><circle cx="185.8" cy="421.5" r="1.6"/><circle cx="204.4" cy="428.5" r="1.6"/><circle cx="220.7" cy="430.3" r="1.6"/><circle cx="241.3" cy="439.3" r="1.6"/><circle cx="260.4" cy="422.9" r="1.6"/><circle cx="286.4" cy="415.0" r="1.6"/><circle cx="304.1" cy="424.7" r="1.6"/><circle cx="323.6" cy="433.0" r="1.6"/><circle cx="347.3" cy="441.4" r="1.6"/><circle cx="368.2" cy="425.4" r="1.6"/><circle cx="381.4" cy="421.9" r="1.6"/><circle cx="406.5" cy="402.0" r="1.6"/><circle cx="426.0" cy="415.0" r="1.6"/><circle cx="444.4" cy="425.4" r="1.6"/><circle cx="464.0" cy="412.2" r="1.6"/><circle cx="469.1" cy="421.2" r="1.6"/><circle cx="472.5" cy="421.5" r="1.6"/><circle cx="477.4" cy="418.1" r="1.6"/><circle cx="483.7" cy="422.3" r="1.6"/><circle cx="487.2" cy="421.5" r="1.6"/><circle cx="492.0" cy="422.9" r="1.6"/><circle cx="497.6" cy="421.9" r="1.6"/><circle cx="502.5" cy="418.1" r="1.6"/><circle cx="507.4" cy="418.4" r="1.6"/><circle cx="511.5" cy="419.1" r="1.6"/><circle cx="517.1" cy="417.0" r="1.6"/><circle cx="522.0" cy="407.0" r="1.6"/><circle cx="529.6" cy="407.0" r="1.6"/><circle cx="535.2" cy="413.6" r="1.6"/><circle cx="542.9" cy="413.3" r="1.6"/><circle cx="549.8" cy="411.2" r="1.6"/><circle cx="557.5" cy="414.2" r="1.6"/><circle cx="561.0" cy="417.7" r="1.6"/><circle cx="565.8" cy="426.8" r="1.6"/><circle cx="574.9" cy="419.1" r="1.6"/><circle cx="579.8" cy="420.5" r="1.6"/><circle cx="585.3" cy="418.4" r="1.6"/><circle cx="590.2" cy="421.9" r="1.6"/><circle cx="594.4" cy="434.4" r="1.6"/><circle cx="597.2" cy="431.7" r="1.6"/><circle cx="608.3" cy="427.2" r="1.6"/><circle cx="613.2" cy="426.5" r="1.6"/><circle cx="616.7" cy="417.3" r="1.6"/><circle cx="625.5" cy="407.0" r="1.6"/><circle cx="632.7" cy="418.4" r="1.6"/><circle cx="635.5" cy="430.3" r="1.6"/><circle cx="645.2" cy="427.1" r="1.6"/><circle cx="650.5" cy="434.0" r="1.6"/><circle cx="655.6" cy="434.0" r="1.6"/><circle cx="668.1" cy="430.7" r="1.6"/><circle cx="673.7" cy="429.6" r="1.6"/><circle cx="676.5" cy="423.3" r="1.6"/><circle cx="685.5" cy="418.4" r="1.6"/><circle cx="691.8" cy="427.5" r="1.6"/><circle cx="696.4" cy="432.4" r="1.6"/><circle cx="701.5" cy="429.3" r="1.6"/><circle cx="705.4" cy="418.1" r="1.6"/><circle cx="711.3" cy="434.4" r="1.6"/><circle cx="713.4" cy="432.1" r="1.6"/><circle cx="720.3" cy="441.4" r="1.6"/><circle cx="723.8" cy="440.0" r="1.6"/><circle cx="729.4" cy="440.7" r="1.6"/><circle cx="744.7" cy="427.5" r="1.6"/><circle cx="749.2" cy="421.5" r="1.6"/><circle cx="758.6" cy="424.7" r="1.6"/><circle cx="764.2" cy="419.1" r="1.6"/><circle cx="770.1" cy="412.2" r="1.6"/><circle cx="776.7" cy="422.6" r="1.6"/><circle cx="785.1" cy="412.2" r="1.6"/><circle cx="793.5" cy="419.5" r="1.6"/><circle cx="798.3" cy="419.8" r="1.6"/><circle cx="803.2" cy="412.2" r="1.6"/><circle cx="807.4" cy="414.2" r="1.6"/><circle cx="812.3" cy="422.6" r="1.6"/><circle cx="815.7" cy="421.9" r="1.6"/><circle cx="821.0" cy="423.3" r="1.6"/><circle cx="823.4" cy="419.1" r="1.6"/><circle cx="829.7" cy="417.3" r="1.6"/><circle cx="835.2" cy="421.9" r="1.6"/><circle cx="838.7" cy="414.0" r="1.6"/><circle cx="846.3" cy="415.0" r="1.6"/><circle cx="847.0" cy="410.8" r="1.6"/><circle cx="853.9" cy="408.7" r="1.6"/><circle cx="857.4" cy="405.2" r="1.6"/><circle cx="864.4" cy="410.8" r="1.6"/><circle cx="868.3" cy="403.1" r="1.6"/><circle cx="875.2" cy="418.4" r="1.6"/><circle cx="881.8" cy="412.2" r="1.6"/><circle cx="890.4" cy="394.1" r="1.6"/><circle cx="896.4" cy="405.9" r="1.6"/><circle cx="901.3" cy="406.2" r="1.6"/><circle cx="906.2" cy="407.6" r="1.6"/><circle cx="912.4" cy="400.0" r="1.6"/><circle cx="918.0" cy="404.2" r="1.6"/><circle cx="929.1" cy="407.3" r="1.6"/><circle cx="937.5" cy="410.8" r="1.6"/><circle cx="942.4" cy="409.4" r="1.6"/><circle cx="947.2" cy="414.2" r="1.6"/><circle cx="952.1" cy="412.2" r="1.6"/><circle cx="955.6" cy="414.2" r="1.6"/><circle cx="959.5" cy="421.9" r="1.6"/><circle cx="963.3" cy="413.6" r="1.6"/><circle cx="976.5" cy="409.4" r="1.6"/><circle cx="984.8" cy="410.8" r="1.6"/><circle cx="989.3" cy="418.1" r="1.6"/><circle cx="993.2" cy="412.2" r="1.6"/><circle cx="1002.3" cy="419.1" r="1.6"/><circle cx="1007.8" cy="421.5" r="1.6"/><circle cx="1011.3" cy="429.3" r="1.6"/><circle cx="1014.8" cy="429.3" r="1.6"/><circle cx="1018.3" cy="425.4" r="1.6"/><circle cx="1023.6" cy="425.4" r="1.6"/><circle cx="1026.6" cy="419.1" r="1.6"/><circle cx="1030.1" cy="421.9" r="1.6"/><circle cx="1034.3" cy="428.9" r="1.6"/><circle cx="1037.5" cy="426.1" r="1.6"/><circle cx="1041.8" cy="435.8" r="1.6"/><circle cx="1043.2" cy="434.9" r="1.6"/><circle cx="1047.4" cy="438.6" r="1.6"/><circle cx="1054.4" cy="432.4" r="1.6"/><circle cx="1059.2" cy="429.6" r="1.6"/><circle cx="1061.3" cy="426.5" r="1.6"/><circle cx="1066.2" cy="427.5" r="1.6"/><circle cx="1072.5" cy="434.0" r="1.6"/><circle cx="1077.4" cy="425.4" r="1.6"/><circle cx="1083.2" cy="451.6" r="1.6"/><circle cx="1085.0" cy="451.6" r="1.6"/><circle cx="1088.5" cy="451.2" r="1.6"/><circle cx="1093.4" cy="440.7" r="1.6"/><circle cx="1098.2" cy="438.6" r="1.6"/><circle cx="1102.4" cy="430.3" r="1.6"/><circle cx="1105.9" cy="424.0" r="1.6"/><circle cx="1112.2" cy="422.3" r="1.6"/><circle cx="1117.7" cy="422.6" r="1.6"/><circle cx="1124.7" cy="425.7" r="1.6"/><circle cx="1131.0" cy="419.8" r="1.6"/><circle cx="1134.5" cy="418.7" r="1.6"/><circle cx="1141.4" cy="408.4" r="1.6"/><circle cx="1148.4" cy="409.0" r="1.6"/><circle cx="1156.0" cy="411.2" r="1.6"/><circle cx="1160.2" cy="420.9" r="1.6"/><circle cx="1164.4" cy="419.5" r="1.6"/><circle cx="1170.7" cy="419.5" r="1.6"/><circle cx="1175.5" cy="421.5" r="1.6"/><circle cx="1180.4" cy="413.6" r="1.6"/><circle cx="1186.7" cy="419.5" r="1.6"/><circle cx="1194.3" cy="436.8" r="1.6"/><circle cx="1199.2" cy="428.5" r="1.6"/><circle cx="1215.9" cy="436.5" r="1.6"/><circle cx="1221.5" cy="436.8" r="1.6"/><circle cx="1229.1" cy="430.3" r="1.6"/><circle cx="1235.3" cy="428.9" r="1.6"/><circle cx="1240.9" cy="422.9" r="1.6"/><circle cx="1252.0" cy="424.3" r="1.6"/><circle cx="1259.7" cy="423.3" r="1.6"/><circle cx="1284.3" cy="417.3" r="1.6"/><circle cx="1299.4" cy="440.0" r="1.6"/><circle cx="1307.0" cy="441.0" r="1.6"/><circle cx="1311.2" cy="437.6" r="1.6"/><circle cx="1316.1" cy="439.6" r="1.6"/><circle cx="1320.0" cy="432.1" r="1.6"/><circle cx="1323.8" cy="432.1" r="1.6"/><circle cx="1325.8" cy="433.7" r="1.6"/><circle cx="1327.9" cy="433.0" r="1.6"/><circle cx="1332.8" cy="435.1" r="1.6"/><circle cx="1334.9" cy="442.8" r="1.6"/><circle cx="1339.1" cy="443.2" r="1.6"/><circle cx="1341.2" cy="445.6" r="1.6"/><circle cx="1345.3" cy="444.9" r="1.6"/><circle cx="1353.0" cy="446.0" r="1.6"/><circle cx="1357.2" cy="443.8" r="1.6"/><circle cx="1364.2" cy="443.2" r="1.6"/><circle cx="1367.6" cy="445.2" r="1.6"/><circle cx="1371.8" cy="445.2" r="1.6"/><circle cx="1375.3" cy="443.2" r="1.6"/><circle cx="1380.2" cy="430.3" r="1.6"/><circle cx="1406.3" cy="433.3" r="1.6"/><circle cx="1411.3" cy="436.8" r="1.6"/><circle cx="1417.1" cy="432.7" r="1.6"/><circle cx="1423.4" cy="432.1" r="1.6"/><circle cx="1445.7" cy="435.1" r="1.6"/><circle cx="1449.2" cy="433.0" r="1.6"/><circle cx="1453.4" cy="434.0" r="1.6"/><circle cx="1462.4" cy="432.1" r="1.6"/><circle cx="1469.1" cy="458.8" r="1.6"/><circle cx="1473.6" cy="459.5" r="1.6"/><circle cx="1475.2" cy="453.9" r="1.6"/></g>
<circle cx="1026.4" cy="476.2" r="1.8" fill="#6ccb45"/>
<polyline points="1240.9,476.2 1285.5,476.2" fill="none" stroke="#6ccb45" stroke-width="2.2" stroke-linejoin="round" stroke-linecap="round"/>
<polyline points="1356.5,476.2 1372.5,476.2" fill="none" stroke="#6ccb45" stroke-width="2.2" stroke-linejoin="round" stroke-linecap="round"/>
<polyline points="1405.3,476.2 1453.4,476.0 1462.4,473.0" fill="none" stroke="#6ccb45" stroke-width="2.2" stroke-linejoin="round" stroke-linecap="round"/>
<circle cx="1474.7" cy="474.4" r="1.8" fill="#6ccb45"/>
<path d="M75.5 367.5 V477.5 H1489.5 V367.5" fill="none" stroke="#000" stroke-width="1"/>
<line x1="75" y1="367.5" x2="86" y2="367.5" stroke="#000"/>
<line x1="1479" y1="367.5" x2="1490" y2="367.5" stroke="#000"/>
<line x1="75" y1="395.5" x2="86" y2="395.5" stroke="#000"/>
<line x1="1479" y1="395.5" x2="1490" y2="395.5" stroke="#000"/>
<line x1="75" y1="422.5" x2="86" y2="422.5" stroke="#000"/>
<line x1="1479" y1="422.5" x2="1490" y2="422.5" stroke="#000"/>
<line x1="75" y1="450.5" x2="86" y2="450.5" stroke="#000"/>
<line x1="1479" y1="450.5" x2="1490" y2="450.5" stroke="#000"/>
<line x1="75" y1="477.5" x2="86" y2="477.5" stroke="#000"/>
<line x1="1479" y1="477.5" x2="1490" y2="477.5" stroke="#000"/>
<text x="72.8" y="369.0" text-anchor="end" class="al">100</text>
<text x="1494" y="369.0" class="al">100</text>
<text x="72.8" y="397.0" text-anchor="end" class="al">75</text>
<text x="1494" y="397.0" class="al">75</text>
<text x="72.8" y="425.0" text-anchor="end" class="al">50</text>
<text x="1494" y="425.0" class="al">50</text>
<text x="72.8" y="452.0" text-anchor="end" class="al">25</text>
<text x="1494" y="452.0" class="al">25</text>
<text x="72.8" y="480.0" text-anchor="end" class="al">0</text>
<text x="1494" y="480.0" class="al">0</text>
<text x="175.8" y="496" text-anchor="middle" class="al">13/06/01</text>
<text x="297.8" y="496" text-anchor="middle" class="al">13/12/01</text>
<text x="417.8" y="496" text-anchor="middle" class="al">14/06/01</text>
<text x="539.8" y="496" text-anchor="middle" class="al">14/12/01</text>
<text x="659.8" y="496" text-anchor="middle" class="al">15/06/01</text>
<text x="781.8" y="496" text-anchor="middle" class="al">15/12/01</text>
<text x="902.8" y="496" text-anchor="middle" class="al">16/06/01</text>
<text x="1023.8" y="496" text-anchor="middle" class="al">16/12/01</text>
<text x="1144.8" y="496" text-anchor="middle" class="al">17/06/01</text>
<text x="1266.8" y="496" text-anchor="middle" class="al">17/12/01</text>
<text x="1386.8" y="496" text-anchor="middle" class="al">18/06/01</text>
<rect x="76" y="547" width="1413" height="37" fill="#f5f6f8"/>
<rect x="76" y="621" width="1413" height="36" fill="#f5f6f8"/>
<line x1="75" y1="546.5" x2="1489" y2="546.5" stroke="#e1e1e1" stroke-width="1"/>
<line x1="75" y1="584.5" x2="1489" y2="584.5" stroke="#e1e1e1" stroke-width="1"/>
<line x1="75" y1="620.5" x2="1489" y2="620.5" stroke="#e1e1e1" stroke-width="1"/>
<line x1="175.5" y1="546" x2="175.5" y2="657" stroke="#e1e1e1" stroke-width="1"/>
<line x1="297.5" y1="546" x2="297.5" y2="657" stroke="#e1e1e1" stroke-width="1"/>
<line x1="417.5" y1="546" x2="417.5" y2="657" stroke="#e1e1e1" stroke-width="1"/>
<line x1="539.5" y1="546" x2="539.5" y2="657" stroke="#e1e1e1" stroke-width="1"/>
<line x1="659.5" y1="546" x2="659.5" y2="657" stroke="#e1e1e1" stroke-width="1"/>
<line x1="781.5" y1="546" x2="781.5" y2="657" stroke="#e1e1e1" stroke-width="1"/>
<line x1="902.5" y1="546" x2="902.5" y2="657" stroke="#e1e1e1" stroke-width="1"/>
<line x1="1023.5" y1="546" x2="1023.5" y2="657" stroke="#e1e1e1" stroke-width="1"/>
<line x1="1144.5" y1="546" x2="1144.5" y2="657" stroke="#e1e1e1" stroke-width="1"/>
<line x1="1266.5" y1="546" x2="1266.5" y2="657" stroke="#e1e1e1" stroke-width="1"/>
<line x1="1386.5" y1="546" x2="1386.5" y2="657" stroke="#e1e1e1" stroke-width="1"/>
<polyline points="88,636.5 1475.8,636.5" fill="none" stroke="#a9c7d6" stroke-width="2.2" stroke-linecap="round"/>
<polyline points="543.3,644.7 550.3,630.2 555.2,645.7 558.1,643.1 561.4,649.6 566.1,648.5 571.0,644.4 575.2,644.4 580.3,642.4 584.8,643.1 589.4,645.7 594.1,645.3 597.4,640.2 601.0,632.0 608.1,643.4 613.2,649.2 616.2,625.3 620.3,621.2 625.5,628.2 632.3,653.1 635.2,643.4 641.2,636.3 644.8,641.8 650.4,649.6 655.4,614.4 668.3,647.5 672.6,634.6 676.5,627.3 683.3,640.5 685.5,632.4 692.3,648.3 696.8,644.4 701.4,629.2 705.2,631.4 711.3,651.1 713.2,637.2 720.3,648.3 724.4,644.4 729.3,631.1 744.3,645.3 749.4,618.2 758.5,637.6 763.2,623.4 770.1,647.3 775.2,648.3 777.0,633.3 785.2,633.3 793.3,627.9 798.5,635.4 803.2,646.0 807.5,650.5 811.9,643.1 815.5,643.1 821.3,647.5 823.2,615.0 829.0,641.8 835.2,651.1 839.4,616.9 846.2,651.4 847.1,632.0 854.2,645.3 857.4,634.1 864.3,650.1 868.1,620.2 874.8,636.9 881.3,645.3 885.2,646.6 890.3,643.4 896.5,635.0 901.3,621.5 906.1,642.7 912.3,633.3 917.3,611.4 929.4,649.6 934.3,648.3 937.4,633.3 943.5,637.6 952.3,646.2 955.2,639.3 959.3,639.3 963.5,617.3 976.1,612.4 984.8,628.9 989.4,644.4 993.2,607.5 1002.3,646.2 1002.6,634.4 1007.0,640.2 1011.3,645.3 1014.3,645.3 1018.1,636.3 1023.5,643.1 1026.4,642.4 1032.3,649.6 1034.9,641.5 1037.5,630.5 1042.3,652.7 1042.9,645.7 1047.4,632.0 1051.7,646.6 1054.3,635.4 1058.6,648.8 1061.6,635.4 1066.1,643.4 1069.7,645.7 1072.6,635.4 1077.5,636.7 1082.6,651.8 1084.8,642.4 1088.3,631.5 1093.2,636.3 1097.4,648.5 1098.4,642.4 1101.5,647.5 1101.9,639.3 1106.3,635.4 1112.3,633.7 1118.5,625.6 1123.9,633.3 1131.4,641.5 1134.6,600.2 1141.5,616.3 1148.4,643.6 1151.4,635.9 1156.5,639.5 1160.4,632.0 1164.5,616.3 1171.4,644.4 1175.9,634.1 1180.3,603.4 1186.5,616.0 1194.2,622.5 1199.7,585.3 1216.1,632.0 1221.5,598.2 1229.4,636.3 1235.2,638.2 1241.3,621.2 1252.3,624.3 1259.4,616.3 1284.5,606.2 1299.3,633.3 1303.5,630.2 1307.4,623.4 1311.3,629.5 1316.2,623.4 1320.3,629.5 1324.2,648.3 1325.5,642.4 1327.4,612.4 1331.9,648.3 1334.5,649.2 1335.2,637.2 1339.4,642.4 1341.4,630.2 1345.2,615.3 1351.3,645.3 1353.2,637.2 1357.4,609.2 1364.2,647.5 1364.6,638.2 1367.2,627.3 1371.0,625.3 1375.8,632.0 1380.3,646.2 1381.4,620.2 1406.1,636.3 1406.8,632.4 1411.5,629.2 1417.5,633.3 1423.2,584.3 1446.1,645.3 1449.7,643.4 1462.3,627.3 1469.1,652.4 1470.0,643.1 1472.2,644.7 1474.5,648.5 1475.2,640.5" fill="none" stroke="#7aa0b2" stroke-width="2" stroke-linejoin="round" stroke-linecap="round"/>
<g fill="#7aa0b2"><circle cx="543.3" cy="644.7" r="1.5"/><circle cx="550.3" cy="630.2" r="1.5"/><circle cx="555.2" cy="645.7" r="1.5"/><circle cx="558.1" cy="643.1" r="1.5"/><circle cx="561.4" cy="649.6" r="1.5"/><circle cx="566.1" cy="648.5" r="1.5"/><circle cx="571.0" cy="644.4" r="1.5"/><circle cx="575.2" cy="644.4" r="1.5"/><circle cx="580.3" cy="642.4" r="1.5"/><circle cx="584.8" cy="643.1" r="1.5"/><circle cx="589.4" cy="645.7" r="1.5"/><circle cx="594.1" cy="645.3" r="1.5"/><circle cx="597.4" cy="640.2" r="1.5"/><circle cx="601.0" cy="632.0" r="1.5"/><circle cx="608.1" cy="643.4" r="1.5"/><circle cx="613.2" cy="649.2" r="1.5"/><circle cx="616.2" cy="625.3" r="1.5"/><circle cx="620.3" cy="621.2" r="1.5"/><circle cx="625.5" cy="628.2" r="1.5"/><circle cx="632.3" cy="653.1" r="1.5"/><circle cx="635.2" cy="643.4" r="1.5"/><circle cx="641.2" cy="636.3" r="1.5"/><circle cx="644.8" cy="641.8" r="1.5"/><circle cx="650.4" cy="649.6" r="1.5"/><circle cx="655.4" cy="614.4" r="1.5"/><circle cx="668.3" cy="647.5" r="1.5"/><circle cx="672.6" cy="634.6" r="1.5"/><circle cx="676.5" cy="627.3" r="1.5"/><circle cx="683.3" cy="640.5" r="1.5"/><circle cx="685.5" cy="632.4" r="1.5"/><circle cx="692.3" cy="648.3" r="1.5"/><circle cx="696.8" cy="644.4" r="1.5"/><circle cx="701.4" cy="629.2" r="1.5"/><circle cx="705.2" cy="631.4" r="1.5"/><circle cx="711.3" cy="651.1" r="1.5"/><circle cx="713.2" cy="637.2" r="1.5"/><circle cx="720.3" cy="648.3" r="1.5"/><circle cx="724.4" cy="644.4" r="1.5"/><circle cx="729.3" cy="631.1" r="1.5"/><circle cx="744.3" cy="645.3" r="1.5"/><circle cx="749.4" cy="618.2" r="1.5"/><circle cx="758.5" cy="637.6" r="1.5"/><circle cx="763.2" cy="623.4" r="1.5"/><circle cx="770.1" cy="647.3" r="1.5"/><circle cx="775.2" cy="648.3" r="1.5"/><circle cx="777.0" cy="633.3" r="1.5"/><circle cx="785.2" cy="633.3" r="1.5"/><circle cx="793.3" cy="627.9" r="1.5"/><circle cx="798.5" cy="635.4" r="1.5"/><circle cx="803.2" cy="646.0" r="1.5"/><circle cx="807.5" cy="650.5" r="1.5"/><circle cx="811.9" cy="643.1" r="1.5"/><circle cx="815.5" cy="643.1" r="1.5"/><circle cx="821.3" cy="647.5" r="1.5"/><circle cx="823.2" cy="615.0" r="1.5"/><circle cx="829.0" cy="641.8" r="1.5"/><circle cx="835.2" cy="651.1" r="1.5"/><circle cx="839.4" cy="616.9" r="1.5"/><circle cx="846.2" cy="651.4" r="1.5"/><circle cx="847.1" cy="632.0" r="1.5"/><circle cx="854.2" cy="645.3" r="1.5"/><circle cx="857.4" cy="634.1" r="1.5"/><circle cx="864.3" cy="650.1" r="1.5"/><circle cx="868.1" cy="620.2" r="1.5"/><circle cx="874.8" cy="636.9" r="1.5"/><circle cx="881.3" cy="645.3" r="1.5"/><circle cx="885.2" cy="646.6" r="1.5"/><circle cx="890.3" cy="643.4" r="1.5"/><circle cx="896.5" cy="635.0" r="1.5"/><circle cx="901.3" cy="621.5" r="1.5"/><circle cx="906.1" cy="642.7" r="1.5"/><circle cx="912.3" cy="633.3" r="1.5"/><circle cx="917.3" cy="611.4" r="1.5"/><circle cx="929.4" cy="649.6" r="1.5"/><circle cx="934.3" cy="648.3" r="1.5"/><circle cx="937.4" cy="633.3" r="1.5"/><circle cx="943.5" cy="637.6" r="1.5"/><circle cx="952.3" cy="646.2" r="1.5"/><circle cx="955.2" cy="639.3" r="1.5"/><circle cx="959.3" cy="639.3" r="1.5"/><circle cx="963.5" cy="617.3" r="1.5"/><circle cx="976.1" cy="612.4" r="1.5"/><circle cx="984.8" cy="628.9" r="1.5"/><circle cx="989.4" cy="644.4" r="1.5"/><circle cx="993.2" cy="607.5" r="1.5"/><circle cx="1002.3" cy="646.2" r="1.5"/><circle cx="1002.6" cy="634.4" r="1.5"/><circle cx="1007.0" cy="640.2" r="1.5"/><circle cx="1011.3" cy="645.3" r="1.5"/><circle cx="1014.3" cy="645.3" r="1.5"/><circle cx="1018.1" cy="636.3" r="1.5"/><circle cx="1023.5" cy="643.1" r="1.5"/><circle cx="1026.4" cy="642.4" r="1.5"/><circle cx="1032.3" cy="649.6" r="1.5"/><circle cx="1034.9" cy="641.5" r="1.5"/><circle cx="1037.5" cy="630.5" r="1.5"/><circle cx="1042.3" cy="652.7" r="1.5"/><circle cx="1042.9" cy="645.7" r="1.5"/><circle cx="1047.4" cy="632.0" r="1.5"/><circle cx="1051.7" cy="646.6" r="1.5"/><circle cx="1054.3" cy="635.4" r="1.5"/><circle cx="1058.6" cy="648.8" r="1.5"/><circle cx="1061.6" cy="635.4" r="1.5"/><circle cx="1066.1" cy="643.4" r="1.5"/><circle cx="1069.7" cy="645.7" r="1.5"/><circle cx="1072.6" cy="635.4" r="1.5"/><circle cx="1077.5" cy="636.7" r="1.5"/><circle cx="1082.6" cy="651.8" r="1.5"/><circle cx="1084.8" cy="642.4" r="1.5"/><circle cx="1088.3" cy="631.5" r="1.5"/><circle cx="1093.2" cy="636.3" r="1.5"/><circle cx="1097.4" cy="648.5" r="1.5"/><circle cx="1098.4" cy="642.4" r="1.5"/><circle cx="1101.5" cy="647.5" r="1.5"/><circle cx="1101.9" cy="639.3" r="1.5"/><circle cx="1106.3" cy="635.4" r="1.5"/><circle cx="1112.3" cy="633.7" r="1.5"/><circle cx="1118.5" cy="625.6" r="1.5"/><circle cx="1123.9" cy="633.3" r="1.5"/><circle cx="1131.4" cy="641.5" r="1.5"/><circle cx="1134.6" cy="600.2" r="1.5"/><circle cx="1141.5" cy="616.3" r="1.5"/><circle cx="1148.4" cy="643.6" r="1.5"/><circle cx="1151.4" cy="635.9" r="1.5"/><circle cx="1156.5" cy="639.5" r="1.5"/><circle cx="1160.4" cy="632.0" r="1.5"/><circle cx="1164.5" cy="616.3" r="1.5"/><circle cx="1171.4" cy="644.4" r="1.5"/><circle cx="1175.9" cy="634.1" r="1.5"/><circle cx="1180.3" cy="603.4" r="1.5"/><circle cx="1186.5" cy="616.0" r="1.5"/><circle cx="1194.2" cy="622.5" r="1.5"/><circle cx="1199.7" cy="585.3" r="1.5"/><circle cx="1216.1" cy="632.0" r="1.5"/><circle cx="1221.5" cy="598.2" r="1.5"/><circle cx="1229.4" cy="636.3" r="1.5"/><circle cx="1235.2" cy="638.2" r="1.5"/><circle cx="1241.3" cy="621.2" r="1.5"/><circle cx="1252.3" cy="624.3" r="1.5"/><circle cx="1259.4" cy="616.3" r="1.5"/><circle cx="1284.5" cy="606.2" r="1.5"/><circle cx="1299.3" cy="633.3" r="1.5"/><circle cx="1303.5" cy="630.2" r="1.5"/><circle cx="1307.4" cy="623.4" r="1.5"/><circle cx="1311.3" cy="629.5" r="1.5"/><circle cx="1316.2" cy="623.4" r="1.5"/><circle cx="1320.3" cy="629.5" r="1.5"/><circle cx="1324.2" cy="648.3" r="1.5"/><circle cx="1325.5" cy="642.4" r="1.5"/><circle cx="1327.4" cy="612.4" r="1.5"/><circle cx="1331.9" cy="648.3" r="1.5"/><circle cx="1334.5" cy="649.2" r="1.5"/><circle cx="1335.2" cy="637.2" r="1.5"/><circle cx="1339.4" cy="642.4" r="1.5"/><circle cx="1341.4" cy="630.2" r="1.5"/><circle cx="1345.2" cy="615.3" r="1.5"/><circle cx="1351.3" cy="645.3" r="1.5"/><circle cx="1353.2" cy="637.2" r="1.5"/><circle cx="1357.4" cy="609.2" r="1.5"/><circle cx="1364.2" cy="647.5" r="1.5"/><circle cx="1364.6" cy="638.2" r="1.5"/><circle cx="1367.2" cy="627.3" r="1.5"/><circle cx="1371.0" cy="625.3" r="1.5"/><circle cx="1375.8" cy="632.0" r="1.5"/><circle cx="1380.3" cy="646.2" r="1.5"/><circle cx="1381.4" cy="620.2" r="1.5"/><circle cx="1406.1" cy="636.3" r="1.5"/><circle cx="1406.8" cy="632.4" r="1.5"/><circle cx="1411.5" cy="629.2" r="1.5"/><circle cx="1417.5" cy="633.3" r="1.5"/><circle cx="1423.2" cy="584.3" r="1.5"/><circle cx="1446.1" cy="645.3" r="1.5"/><circle cx="1449.7" cy="643.4" r="1.5"/><circle cx="1462.3" cy="627.3" r="1.5"/><circle cx="1469.1" cy="652.4" r="1.5"/><circle cx="1470.0" cy="643.1" r="1.5"/><circle cx="1472.2" cy="644.7" r="1.5"/><circle cx="1474.5" cy="648.5" r="1.5"/><circle cx="1475.2" cy="640.5" r="1.5"/></g>
<path d="M75.5 546.5 V657.5 H1489.5 V546.5" fill="none" stroke="#000" stroke-width="1"/>
<line x1="75" y1="546.5" x2="86" y2="546.5" stroke="#000"/>
<line x1="1479" y1="546.5" x2="1490" y2="546.5" stroke="#000"/>
<line x1="75" y1="584.5" x2="86" y2="584.5" stroke="#000"/>
<line x1="1479" y1="584.5" x2="1490" y2="584.5" stroke="#000"/>
<line x1="75" y1="620.5" x2="86" y2="620.5" stroke="#000"/>
<line x1="1479" y1="620.5" x2="1490" y2="620.5" stroke="#000"/>
<line x1="75" y1="657.5" x2="86" y2="657.5" stroke="#000"/>
<line x1="1479" y1="657.5" x2="1490" y2="657.5" stroke="#000"/>
<line x1="175.5" y1="647" x2="175.5" y2="657" stroke="#000"/>
<line x1="297.5" y1="647" x2="297.5" y2="657" stroke="#000"/>
<line x1="417.5" y1="647" x2="417.5" y2="657" stroke="#000"/>
<line x1="539.5" y1="647" x2="539.5" y2="657" stroke="#000"/>
<line x1="659.5" y1="647" x2="659.5" y2="657" stroke="#000"/>
<line x1="781.5" y1="647" x2="781.5" y2="657" stroke="#000"/>
<line x1="902.5" y1="647" x2="902.5" y2="657" stroke="#000"/>
<line x1="1023.5" y1="647" x2="1023.5" y2="657" stroke="#000"/>
<line x1="1144.5" y1="647" x2="1144.5" y2="657" stroke="#000"/>
<line x1="1266.5" y1="647" x2="1266.5" y2="657" stroke="#000"/>
<line x1="1386.5" y1="647" x2="1386.5" y2="657" stroke="#000"/>
<text x="72.8" y="550.0" text-anchor="end" class="al">3000</text>
<text x="1494" y="550.0" class="al">3000</text>
<text x="72.8" y="587.0" text-anchor="end" class="al">2000</text>
<text x="1494" y="587.0" class="al">2000</text>
<text x="72.8" y="623.0" text-anchor="end" class="al">1000</text>
<text x="1494" y="623.0" class="al">1000</text>
<text x="72.8" y="660.0" text-anchor="end" class="al">0</text>
<text x="1494" y="660.0" class="al">0</text>
<text x="175.8" y="676" text-anchor="middle" class="al">13/06/01</text>
<text x="297.8" y="676" text-anchor="middle" class="al">13/12/01</text>
<text x="417.8" y="676" text-anchor="middle" class="al">14/06/01</text>
<text x="539.8" y="676" text-anchor="middle" class="al">14/12/01</text>
<text x="659.8" y="676" text-anchor="middle" class="al">15/06/01</text>
<text x="781.8" y="676" text-anchor="middle" class="al">15/12/01</text>
<text x="902.8" y="676" text-anchor="middle" class="al">16/06/01</text>
<text x="1023.8" y="676" text-anchor="middle" class="al">16/12/01</text>
<text x="1144.8" y="676" text-anchor="middle" class="al">17/06/01</text>
<text x="1266.8" y="676" text-anchor="middle" class="al">17/12/01</text>
<text x="1386.8" y="676" text-anchor="middle" class="al">18/06/01</text>
</svg>
</body></html>
